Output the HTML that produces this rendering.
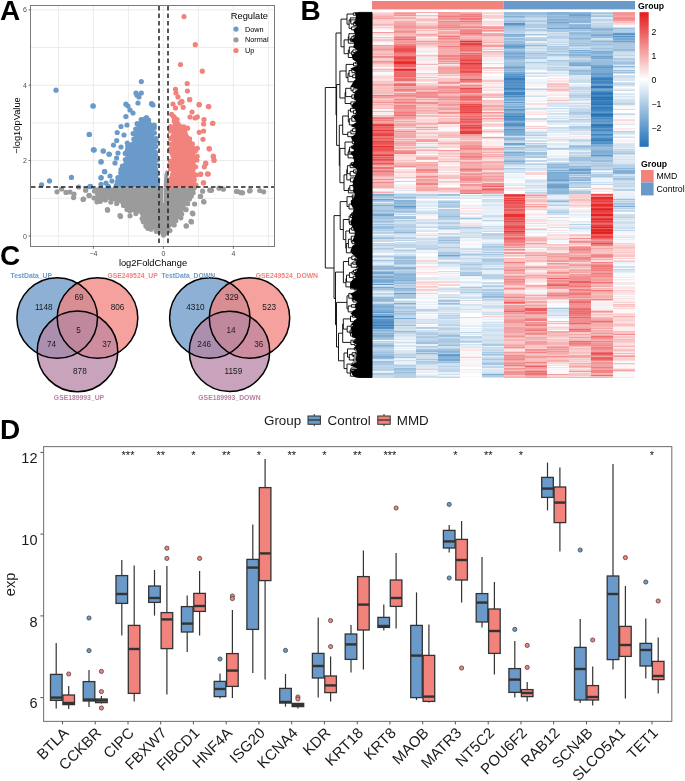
<!DOCTYPE html>
<html><head><meta charset="utf-8"><style>
html,body{margin:0;padding:0;background:#fff;width:685px;height:781px;overflow:hidden}
svg{display:block;font-family:"Liberation Sans", sans-serif;will-change:transform}
</style></head><body>
<svg width="685" height="781" viewBox="0 0 685 781">
<rect width="685" height="781" fill="#fff"/>
<line x1="58.4" y1="6" x2="58.4" y2="246.4" stroke="#EBEBEB" stroke-width="1"/>
<line x1="93.4" y1="6" x2="93.4" y2="246.4" stroke="#EBEBEB" stroke-width="1"/>
<line x1="128.4" y1="6" x2="128.4" y2="246.4" stroke="#EBEBEB" stroke-width="1"/>
<line x1="163.4" y1="6" x2="163.4" y2="246.4" stroke="#EBEBEB" stroke-width="1"/>
<line x1="198.4" y1="6" x2="198.4" y2="246.4" stroke="#EBEBEB" stroke-width="1"/>
<line x1="233.4" y1="6" x2="233.4" y2="246.4" stroke="#EBEBEB" stroke-width="1"/>
<line x1="268.4" y1="6" x2="268.4" y2="246.4" stroke="#EBEBEB" stroke-width="1"/>
<line x1="31" y1="236" x2="275" y2="236" stroke="#EBEBEB" stroke-width="1"/>
<line x1="31" y1="198.3" x2="275" y2="198.3" stroke="#EBEBEB" stroke-width="1"/>
<line x1="31" y1="160.6" x2="275" y2="160.6" stroke="#EBEBEB" stroke-width="1"/>
<line x1="31" y1="122.9" x2="275" y2="122.9" stroke="#EBEBEB" stroke-width="1"/>
<line x1="31" y1="85.2" x2="275" y2="85.2" stroke="#EBEBEB" stroke-width="1"/>
<line x1="31" y1="47.5" x2="275" y2="47.5" stroke="#EBEBEB" stroke-width="1"/>
<line x1="31" y1="9.8" x2="275" y2="9.8" stroke="#EBEBEB" stroke-width="1"/>
<polygon points="93.2,190.3 193.7,190.1 191,194.7 187.2,203.3 182.4,213.8 174.9,223.2 167.5,230.6 162.7,233.4 156.6,231.1 149.5,227.6 144.4,222.5 139.5,213.6 132.3,212 127.3,209.5 120,203.3 108.4,199.8 100.3,200.8 96,200.1 95.1,194.2" fill="#9B9B9B"/>
<circle cx="194.2" cy="187.7" r="2.6" fill="#9B9B9B"/>
<circle cx="193.2" cy="192.8" r="2.6" fill="#9B9B9B"/>
<circle cx="191.3" cy="196.1" r="2.6" fill="#9B9B9B"/>
<circle cx="189.5" cy="199.1" r="2.6" fill="#9B9B9B"/>
<circle cx="187.7" cy="203.7" r="2.6" fill="#9B9B9B"/>
<circle cx="186.1" cy="209.7" r="2.6" fill="#9B9B9B"/>
<circle cx="181.7" cy="214" r="2.6" fill="#9B9B9B"/>
<circle cx="180.9" cy="217.8" r="2.6" fill="#9B9B9B"/>
<circle cx="175.8" cy="220.8" r="2.6" fill="#9B9B9B"/>
<circle cx="174.2" cy="225" r="2.6" fill="#9B9B9B"/>
<circle cx="169.9" cy="230.6" r="2.6" fill="#9B9B9B"/>
<circle cx="165" cy="233.1" r="2.6" fill="#9B9B9B"/>
<circle cx="163.5" cy="235" r="2.6" fill="#9B9B9B"/>
<circle cx="159.7" cy="231.7" r="2.6" fill="#9B9B9B"/>
<circle cx="156.3" cy="231.3" r="2.6" fill="#9B9B9B"/>
<circle cx="151" cy="229.2" r="2.6" fill="#9B9B9B"/>
<circle cx="147.8" cy="228.3" r="2.6" fill="#9B9B9B"/>
<circle cx="145.9" cy="225.9" r="2.6" fill="#9B9B9B"/>
<circle cx="143.3" cy="221.8" r="2.6" fill="#9B9B9B"/>
<circle cx="142.1" cy="218.5" r="2.6" fill="#9B9B9B"/>
<circle cx="135.9" cy="213.6" r="2.6" fill="#9B9B9B"/>
<circle cx="130" cy="210.8" r="2.6" fill="#9B9B9B"/>
<circle cx="127" cy="209.6" r="2.6" fill="#9B9B9B"/>
<circle cx="123.5" cy="205.4" r="2.6" fill="#9B9B9B"/>
<circle cx="116.7" cy="203.4" r="2.6" fill="#9B9B9B"/>
<circle cx="110.8" cy="202.1" r="2.6" fill="#9B9B9B"/>
<circle cx="105.4" cy="199.9" r="2.6" fill="#9B9B9B"/>
<circle cx="100.4" cy="201.3" r="2.6" fill="#9B9B9B"/>
<circle cx="97" cy="201.8" r="2.6" fill="#9B9B9B"/>
<circle cx="94.4" cy="191" r="2.6" fill="#9B9B9B"/>
<polygon points="92,187.5 197,187.5 195,191 94,191" fill="#9B9B9B"/>
<polygon points="163.5,187.5 164.5,174 166.3,169.5 168,174 169,187.5" fill="#9B9B9B"/>
<circle cx="83.1" cy="199.4" r="2.6" fill="#9B9B9B"/>
<circle cx="89.2" cy="195.3" r="2.6" fill="#9B9B9B"/>
<circle cx="85.7" cy="190.2" r="2.6" fill="#9B9B9B"/>
<circle cx="107.6" cy="210.2" r="2.6" fill="#9B9B9B"/>
<circle cx="120.5" cy="216.4" r="2.6" fill="#9B9B9B"/>
<circle cx="130" cy="215.8" r="2.6" fill="#9B9B9B"/>
<circle cx="186.3" cy="226" r="2.6" fill="#9B9B9B"/>
<circle cx="191.4" cy="221.9" r="2.6" fill="#9B9B9B"/>
<circle cx="192.4" cy="213.1" r="2.6" fill="#9B9B9B"/>
<circle cx="203.6" cy="201.5" r="2.6" fill="#9B9B9B"/>
<circle cx="200.6" cy="196.3" r="2.6" fill="#9B9B9B"/>
<circle cx="202.6" cy="191.2" r="2.6" fill="#9B9B9B"/>
<circle cx="209.8" cy="190.2" r="2.6" fill="#9B9B9B"/>
<circle cx="219" cy="188.2" r="2.6" fill="#9B9B9B"/>
<circle cx="57" cy="191.8" r="2.6" fill="#9B9B9B"/>
<circle cx="61.6" cy="189" r="2.6" fill="#9B9B9B"/>
<circle cx="66" cy="192.4" r="2.6" fill="#9B9B9B"/>
<circle cx="70" cy="192" r="2.6" fill="#9B9B9B"/>
<circle cx="74" cy="194" r="2.6" fill="#9B9B9B"/>
<circle cx="73.6" cy="197.6" r="2.6" fill="#9B9B9B"/>
<circle cx="78.6" cy="187" r="2.6" fill="#9B9B9B"/>
<circle cx="83.6" cy="199" r="2.6" fill="#9B9B9B"/>
<circle cx="89" cy="195.6" r="2.6" fill="#9B9B9B"/>
<circle cx="85.6" cy="190" r="2.6" fill="#9B9B9B"/>
<circle cx="94" cy="198" r="2.6" fill="#9B9B9B"/>
<circle cx="100" cy="192" r="2.6" fill="#9B9B9B"/>
<circle cx="107.4" cy="209.6" r="2.6" fill="#9B9B9B"/>
<circle cx="120" cy="215.6" r="2.6" fill="#9B9B9B"/>
<circle cx="223.4" cy="189.2" r="2.6" fill="#9B9B9B"/>
<circle cx="236.5" cy="191.4" r="2.6" fill="#9B9B9B"/>
<circle cx="241" cy="192.7" r="2.6" fill="#9B9B9B"/>
<circle cx="249.7" cy="191" r="2.6" fill="#9B9B9B"/>
<circle cx="259.7" cy="190.5" r="2.6" fill="#9B9B9B"/>
<circle cx="263.7" cy="191.8" r="2.6" fill="#9B9B9B"/>
<circle cx="204" cy="202" r="2.6" fill="#9B9B9B"/>
<circle cx="200.3" cy="196.5" r="2.6" fill="#9B9B9B"/>
<circle cx="194.6" cy="204" r="2.6" fill="#9B9B9B"/>
<circle cx="192.9" cy="213.8" r="2.6" fill="#9B9B9B"/>
<circle cx="191" cy="221.3" r="2.6" fill="#9B9B9B"/>
<circle cx="186.2" cy="225.8" r="2.6" fill="#9B9B9B"/>
<circle cx="211.5" cy="190.3" r="2.6" fill="#9B9B9B"/>
<circle cx="237.6" cy="191.5" r="2.6" fill="#9B9B9B"/>
<circle cx="242.5" cy="192.8" r="2.6" fill="#9B9B9B"/>
<circle cx="250" cy="190.3" r="2.6" fill="#9B9B9B"/>
<polygon points="116,184.7 118.1,178.9 120.6,170.7 124,161.3 127,151.2 128.9,143.6 132.9,141 134.7,129.6 137.6,124.2 140.9,119 143.1,118.4 146.4,118.2 148.7,119 152.5,123.7 155.3,141.6 157.2,184.6" fill="#6A9AC9"/>
<circle cx="116.3" cy="185.4" r="2.6" fill="#6A9AC9"/>
<circle cx="117.6" cy="181.3" r="2.6" fill="#6A9AC9"/>
<circle cx="117.9" cy="177.5" r="2.6" fill="#6A9AC9"/>
<circle cx="120.7" cy="173" r="2.6" fill="#6A9AC9"/>
<circle cx="121" cy="169.5" r="2.6" fill="#6A9AC9"/>
<circle cx="122.4" cy="166" r="2.6" fill="#6A9AC9"/>
<circle cx="125.4" cy="159.5" r="2.6" fill="#6A9AC9"/>
<circle cx="125.2" cy="153.4" r="2.6" fill="#6A9AC9"/>
<circle cx="127.3" cy="150.1" r="2.6" fill="#6A9AC9"/>
<circle cx="127.8" cy="146.4" r="2.6" fill="#6A9AC9"/>
<circle cx="127.3" cy="143" r="2.6" fill="#6A9AC9"/>
<circle cx="133.8" cy="139.1" r="2.6" fill="#6A9AC9"/>
<circle cx="133.1" cy="133.5" r="2.6" fill="#6A9AC9"/>
<circle cx="135.7" cy="129.1" r="2.6" fill="#6A9AC9"/>
<circle cx="137.1" cy="123.7" r="2.6" fill="#6A9AC9"/>
<circle cx="141.2" cy="119.7" r="2.6" fill="#6A9AC9"/>
<circle cx="144.9" cy="118.9" r="2.6" fill="#6A9AC9"/>
<circle cx="146.5" cy="117.5" r="2.6" fill="#6A9AC9"/>
<circle cx="148.6" cy="120" r="2.6" fill="#6A9AC9"/>
<circle cx="154.1" cy="125.2" r="2.6" fill="#6A9AC9"/>
<circle cx="154.3" cy="127.8" r="2.6" fill="#6A9AC9"/>
<circle cx="154.4" cy="132.9" r="2.6" fill="#6A9AC9"/>
<circle cx="156" cy="138.6" r="2.6" fill="#6A9AC9"/>
<circle cx="156" cy="141.3" r="2.6" fill="#6A9AC9"/>
<circle cx="155.7" cy="146.4" r="2.6" fill="#6A9AC9"/>
<circle cx="155.4" cy="152.1" r="2.6" fill="#6A9AC9"/>
<circle cx="155.7" cy="155.2" r="2.6" fill="#6A9AC9"/>
<circle cx="157.3" cy="159.8" r="2.6" fill="#6A9AC9"/>
<circle cx="155.4" cy="164.6" r="2.6" fill="#6A9AC9"/>
<circle cx="155.4" cy="168.7" r="2.6" fill="#6A9AC9"/>
<circle cx="156.5" cy="171.7" r="2.6" fill="#6A9AC9"/>
<circle cx="155.9" cy="175.2" r="2.6" fill="#6A9AC9"/>
<circle cx="157.6" cy="179.3" r="2.6" fill="#6A9AC9"/>
<circle cx="157.4" cy="183.9" r="2.6" fill="#6A9AC9"/>
<polygon points="115,187.5 116,180 158,180 158,187.5" fill="#6A9AC9"/>
<circle cx="56" cy="90.2" r="2.6" fill="#6A9AC9"/>
<circle cx="93.3" cy="106" r="2.6" fill="#6A9AC9"/>
<circle cx="141.3" cy="81.6" r="2.6" fill="#6A9AC9"/>
<circle cx="89.4" cy="134.5" r="2.6" fill="#6A9AC9"/>
<circle cx="93.3" cy="149.8" r="2.6" fill="#6A9AC9"/>
<circle cx="41.6" cy="184.8" r="2.6" fill="#6A9AC9"/>
<circle cx="49.5" cy="180.9" r="2.6" fill="#6A9AC9"/>
<circle cx="71.4" cy="177.4" r="2.6" fill="#6A9AC9"/>
<circle cx="90.6" cy="186.4" r="2.6" fill="#6A9AC9"/>
<circle cx="92.9" cy="105.9" r="2.6" fill="#6A9AC9"/>
<circle cx="89.2" cy="134.4" r="2.6" fill="#6A9AC9"/>
<circle cx="94.1" cy="149.8" r="2.6" fill="#6A9AC9"/>
<circle cx="103.1" cy="151" r="2.6" fill="#6A9AC9"/>
<circle cx="109.3" cy="154.3" r="2.6" fill="#6A9AC9"/>
<circle cx="101.1" cy="161.7" r="2.6" fill="#6A9AC9"/>
<circle cx="89.9" cy="186.6" r="2.6" fill="#6A9AC9"/>
<circle cx="101.1" cy="177.9" r="2.6" fill="#6A9AC9"/>
<circle cx="104.8" cy="171.7" r="2.6" fill="#6A9AC9"/>
<circle cx="108.5" cy="186.6" r="2.6" fill="#6A9AC9"/>
<circle cx="152" cy="104.2" r="2.6" fill="#6A9AC9"/>
<circle cx="125.9" cy="104.2" r="2.6" fill="#6A9AC9"/>
<circle cx="137" cy="95.2" r="2.6" fill="#6A9AC9"/>
<circle cx="141.3" cy="93" r="2.6" fill="#6A9AC9"/>
<circle cx="121" cy="126.5" r="2.6" fill="#6A9AC9"/>
<circle cx="117.2" cy="132.5" r="2.6" fill="#6A9AC9"/>
<circle cx="116.7" cy="140.6" r="2.6" fill="#6A9AC9"/>
<circle cx="113.5" cy="145.1" r="2.6" fill="#6A9AC9"/>
<circle cx="125.9" cy="116.6" r="2.6" fill="#6A9AC9"/>
<circle cx="101" cy="162" r="2.6" fill="#6A9AC9"/>
<circle cx="101" cy="177.6" r="2.6" fill="#6A9AC9"/>
<circle cx="101" cy="184.4" r="2.6" fill="#6A9AC9"/>
<circle cx="104.4" cy="171.6" r="2.6" fill="#6A9AC9"/>
<circle cx="108" cy="186.6" r="2.6" fill="#6A9AC9"/>
<circle cx="109" cy="154" r="2.6" fill="#6A9AC9"/>
<circle cx="116.6" cy="158" r="2.6" fill="#6A9AC9"/>
<circle cx="94" cy="150" r="2.6" fill="#6A9AC9"/>
<circle cx="103.4" cy="151" r="2.6" fill="#6A9AC9"/>
<circle cx="136" cy="93" r="2.6" fill="#6A9AC9"/>
<circle cx="139" cy="97" r="2.6" fill="#6A9AC9"/>
<circle cx="138" cy="103" r="2.6" fill="#6A9AC9"/>
<circle cx="128" cy="106" r="2.6" fill="#6A9AC9"/>
<circle cx="130" cy="110" r="2.6" fill="#6A9AC9"/>
<circle cx="133" cy="113" r="2.6" fill="#6A9AC9"/>
<circle cx="151.5" cy="103.5" r="2.6" fill="#6A9AC9"/>
<circle cx="153" cy="105" r="2.6" fill="#6A9AC9"/>
<circle cx="110" cy="176" r="2.6" fill="#6A9AC9"/>
<circle cx="112" cy="181" r="2.6" fill="#6A9AC9"/>
<circle cx="106" cy="183" r="2.6" fill="#6A9AC9"/>
<circle cx="115" cy="163" r="2.6" fill="#6A9AC9"/>
<circle cx="118" cy="153" r="2.6" fill="#6A9AC9"/>
<circle cx="121" cy="147" r="2.6" fill="#6A9AC9"/>
<circle cx="124" cy="135" r="2.6" fill="#6A9AC9"/>
<circle cx="127" cy="125" r="2.6" fill="#6A9AC9"/>
<polygon points="170.8,184.5 172,128.4 173.6,118.2 174.4,117.2 177.4,119.3 182.1,125 186.5,128.3 188.1,134.6 192.1,141.7 194.9,150.8 195.8,160.1 195.3,171.8 196.1,184.5" fill="#F2837C"/>
<circle cx="170.2" cy="186.6" r="2.6" fill="#F2837C"/>
<circle cx="170.5" cy="183.2" r="2.6" fill="#F2837C"/>
<circle cx="171.1" cy="178.7" r="2.6" fill="#F2837C"/>
<circle cx="172.5" cy="174.7" r="2.6" fill="#F2837C"/>
<circle cx="170.5" cy="168.9" r="2.6" fill="#F2837C"/>
<circle cx="171.1" cy="165.6" r="2.6" fill="#F2837C"/>
<circle cx="170.4" cy="161.1" r="2.6" fill="#F2837C"/>
<circle cx="172.9" cy="155.6" r="2.6" fill="#F2837C"/>
<circle cx="171.5" cy="152.3" r="2.6" fill="#F2837C"/>
<circle cx="170.4" cy="149" r="2.6" fill="#F2837C"/>
<circle cx="170.8" cy="144.1" r="2.6" fill="#F2837C"/>
<circle cx="170.6" cy="138.6" r="2.6" fill="#F2837C"/>
<circle cx="172.8" cy="136.4" r="2.6" fill="#F2837C"/>
<circle cx="170.5" cy="130.9" r="2.6" fill="#F2837C"/>
<circle cx="170.5" cy="126.5" r="2.6" fill="#F2837C"/>
<circle cx="174.2" cy="121" r="2.6" fill="#F2837C"/>
<circle cx="174.6" cy="117.8" r="2.6" fill="#F2837C"/>
<circle cx="173.5" cy="116.4" r="2.6" fill="#F2837C"/>
<circle cx="177.1" cy="119.5" r="2.6" fill="#F2837C"/>
<circle cx="183.8" cy="126.8" r="2.6" fill="#F2837C"/>
<circle cx="187.6" cy="128.2" r="2.6" fill="#F2837C"/>
<circle cx="189.6" cy="138.9" r="2.6" fill="#F2837C"/>
<circle cx="192.4" cy="143.9" r="2.6" fill="#F2837C"/>
<circle cx="194" cy="148.7" r="2.6" fill="#F2837C"/>
<circle cx="195.3" cy="151.1" r="2.6" fill="#F2837C"/>
<circle cx="197.2" cy="156.3" r="2.6" fill="#F2837C"/>
<circle cx="196.9" cy="160" r="2.6" fill="#F2837C"/>
<circle cx="195.5" cy="166.8" r="2.6" fill="#F2837C"/>
<circle cx="195.9" cy="174.9" r="2.6" fill="#F2837C"/>
<circle cx="194.2" cy="179.9" r="2.6" fill="#F2837C"/>
<circle cx="195.8" cy="185.2" r="2.6" fill="#F2837C"/>
<polygon points="170,187.5 170,180 196,180 196,187.5" fill="#F2837C"/>
<circle cx="184" cy="16.6" r="2.6" fill="#F2837C"/>
<circle cx="195.3" cy="44.7" r="2.6" fill="#F2837C"/>
<circle cx="180.5" cy="64.5" r="2.6" fill="#F2837C"/>
<circle cx="202.3" cy="71.2" r="2.6" fill="#F2837C"/>
<circle cx="187.2" cy="83.6" r="2.6" fill="#F2837C"/>
<circle cx="187.4" cy="91" r="2.6" fill="#F2837C"/>
<circle cx="175.5" cy="89.3" r="2.6" fill="#F2837C"/>
<circle cx="189.7" cy="99.7" r="2.6" fill="#F2837C"/>
<circle cx="199.1" cy="104.7" r="2.6" fill="#F2837C"/>
<circle cx="208.3" cy="106.6" r="2.6" fill="#F2837C"/>
<circle cx="212.8" cy="123.3" r="2.6" fill="#F2837C"/>
<circle cx="204" cy="119.6" r="2.6" fill="#F2837C"/>
<circle cx="209" cy="148.6" r="2.6" fill="#F2837C"/>
<circle cx="213.3" cy="156.8" r="2.6" fill="#F2837C"/>
<circle cx="214" cy="160.5" r="2.6" fill="#F2837C"/>
<circle cx="205.8" cy="163.7" r="2.6" fill="#F2837C"/>
<circle cx="208.3" cy="174" r="2.6" fill="#F2837C"/>
<circle cx="200.8" cy="174" r="2.6" fill="#F2837C"/>
<circle cx="203.3" cy="182.8" r="2.6" fill="#F2837C"/>
<circle cx="181.7" cy="101.7" r="2.6" fill="#F2837C"/>
<circle cx="171.6" cy="114.3" r="2.6" fill="#F2837C"/>
<circle cx="175.5" cy="108" r="2.6" fill="#F2837C"/>
<circle cx="183.2" cy="107.3" r="2.6" fill="#F2837C"/>
<circle cx="181.9" cy="101.5" r="2.6" fill="#F2837C"/>
<circle cx="189.6" cy="99.6" r="2.6" fill="#F2837C"/>
<circle cx="199.2" cy="104.7" r="2.6" fill="#F2837C"/>
<circle cx="208.8" cy="106.6" r="2.6" fill="#F2837C"/>
<circle cx="212.6" cy="123.3" r="2.6" fill="#F2837C"/>
<circle cx="203.6" cy="124" r="2.6" fill="#F2837C"/>
<circle cx="203.6" cy="131" r="2.6" fill="#F2837C"/>
<circle cx="199.2" cy="132.3" r="2.6" fill="#F2837C"/>
<circle cx="203" cy="139.3" r="2.6" fill="#F2837C"/>
<circle cx="209.4" cy="148.9" r="2.6" fill="#F2837C"/>
<circle cx="213.3" cy="156" r="2.6" fill="#F2837C"/>
<circle cx="214" cy="159.8" r="2.6" fill="#F2837C"/>
<circle cx="205.6" cy="163" r="2.6" fill="#F2837C"/>
<circle cx="204.3" cy="166.8" r="2.6" fill="#F2837C"/>
<circle cx="207.5" cy="173.9" r="2.6" fill="#F2837C"/>
<circle cx="200.5" cy="174.5" r="2.6" fill="#F2837C"/>
<circle cx="203.6" cy="182.8" r="2.6" fill="#F2837C"/>
<circle cx="197.3" cy="116.9" r="2.6" fill="#F2837C"/>
<circle cx="197.3" cy="148.3" r="2.6" fill="#F2837C"/>
<circle cx="176" cy="93" r="2.6" fill="#F2837C"/>
<circle cx="178" cy="97" r="2.6" fill="#F2837C"/>
<circle cx="180" cy="103" r="2.6" fill="#F2837C"/>
<circle cx="173" cy="104" r="2.6" fill="#F2837C"/>
<circle cx="192" cy="112" r="2.6" fill="#F2837C"/>
<circle cx="195" cy="118" r="2.6" fill="#F2837C"/>
<circle cx="190" cy="117" r="2.6" fill="#F2837C"/>
<line x1="163.4" y1="176" x2="163.4" y2="203" stroke="#fff" stroke-width="0.7" opacity="0.8"/>
<line x1="159" y1="6" x2="159" y2="246.4" stroke="#222" stroke-width="1.5" stroke-dasharray="4.5,3"/>
<line x1="168" y1="6" x2="168" y2="246.4" stroke="#222" stroke-width="1.5" stroke-dasharray="4.5,3"/>
<line x1="31" y1="187" x2="275" y2="187" stroke="#222" stroke-width="1.5" stroke-dasharray="4.5,3"/>
<rect x="30.5" y="5.5" width="244" height="241" fill="none" stroke="#7A7A7A" stroke-width="1"/>
<line x1="28.5" y1="236" x2="31" y2="236" stroke="#555" stroke-width="0.8"/>
<text x="27" y="238.5" font-size="7" fill="#4D4D4D" text-anchor="end">0</text>
<line x1="28.5" y1="160.6" x2="31" y2="160.6" stroke="#555" stroke-width="0.8"/>
<text x="27" y="163.1" font-size="7" fill="#4D4D4D" text-anchor="end">2</text>
<line x1="28.5" y1="85.2" x2="31" y2="85.2" stroke="#555" stroke-width="0.8"/>
<text x="27" y="87.7" font-size="7" fill="#4D4D4D" text-anchor="end">4</text>
<line x1="28.5" y1="9.8" x2="31" y2="9.8" stroke="#555" stroke-width="0.8"/>
<text x="27" y="12.3" font-size="7" fill="#4D4D4D" text-anchor="end">6</text>
<line x1="93.4" y1="246.4" x2="93.4" y2="248.9" stroke="#555" stroke-width="0.8"/>
<text x="93.4" y="255.9" font-size="7" fill="#4D4D4D" text-anchor="middle">−4</text>
<line x1="163.4" y1="246.4" x2="163.4" y2="248.9" stroke="#555" stroke-width="0.8"/>
<text x="163.4" y="255.9" font-size="7" fill="#4D4D4D" text-anchor="middle">0</text>
<line x1="233.4" y1="246.4" x2="233.4" y2="248.9" stroke="#555" stroke-width="0.8"/>
<text x="233.4" y="255.9" font-size="7" fill="#4D4D4D" text-anchor="middle">4</text>
<text x="153" y="265.5" font-size="9.3" fill="#000" text-anchor="middle">log2FoldChange</text>
<text transform="translate(19.6,125.5) rotate(-90)" font-size="9.3" fill="#000" text-anchor="middle">−log10pValue</text>
<text x="230.8" y="19" font-size="9.3" fill="#000">Regulate</text>
<circle cx="236" cy="29.1" r="2.6" fill="#6A9AC9"/>
<text x="245" y="31.7" font-size="7.3" fill="#000">Down</text>
<circle cx="236" cy="39.8" r="2.6" fill="#9B9B9B"/>
<text x="245" y="42.4" font-size="7.3" fill="#000">Normal</text>
<circle cx="236" cy="50.5" r="2.6" fill="#F2837C"/>
<text x="245" y="53.1" font-size="7.3" fill="#000">Up</text>
<text x="0" y="20.1" font-size="28" font-weight="bold" fill="#000">A</text>
<text x="300.6" y="20.1" font-size="28" font-weight="bold" fill="#000">B</text>
<text x="0" y="265" font-size="28" font-weight="bold" fill="#000">C</text>
<text x="0" y="439.3" font-size="28" font-weight="bold" fill="#000">D</text>
<rect x="372.0" y="1" width="131.5" height="8.4" fill="#F2837C"/>
<rect x="503.5" y="1" width="131.5" height="8.4" fill="#6A9AC9"/>
<defs><filter id="hb" x="370.0" y="9.9" width="267.0" height="370.1" filterUnits="userSpaceOnUse"><feGaussianBlur stdDeviation="0.25 0.55"/></filter><clipPath id="hc"><rect x="372.0" y="11.9" width="263" height="366.1"/></clipPath></defs>
<g clip-path="url(#hc)"><g filter="url(#hb)">
<g transform="translate(372.0,11.9) scale(21.9167,1.0003)" fill="none" stroke-width="1" shape-rendering="crispEdges">
<path stroke="#2171B5" d="M10 85.5h1M10 87.5h1M10 102.5h1M10 113.5h1"/>
<path stroke="#2976B8" d="M0 304.5h1M10 74.5h1M10 75.5h1M10 81.5h1M10 92.5h1M10 103.5h1"/>
<path stroke="#317BBA" d="M10 82.5h1M10 86.5h1M10 91.5h1M10 95.5h1M10 96.5h1M10 128.5h1"/>
<path stroke="#3980BD" d="M0 313.5h1M6 66.5h1M6 67.5h1M6 76.5h1M10 66.5h1M10 67.5h1M10 80.5h1M10 89.5h1M10 90.5h1M10 104.5h1M10 112.5h1M10 122.5h1"/>
<path stroke="#4185C0" d="M6 80.5h1M6 81.5h1M6 82.5h1M6 104.5h1M10 69.5h1M10 70.5h1M10 84.5h1M10 97.5h1M10 98.5h1M10 101.5h1M10 114.5h1M10 115.5h1M10 118.5h1M10 127.5h1"/>
<path stroke="#498AC2" d="M0 310.5h1M0 315.5h1M6 70.5h1M6 77.5h1M10 71.5h1M10 83.5h1M10 88.5h1M10 94.5h1M10 106.5h1M10 126.5h1"/>
<path stroke="#518FC5" d="M0 309.5h1M0 311.5h1M0 316.5h1M6 64.5h1M6 68.5h1M6 73.5h1M6 84.5h1M6 106.5h1M6 107.5h1M6 112.5h1M6 113.5h1M10 65.5h1M10 68.5h1M10 79.5h1M10 93.5h1M10 99.5h1M10 117.5h1M10 131.5h1"/>
<path stroke="#5994C8" d="M0 305.5h1M0 307.5h1M0 308.5h1M0 312.5h1M6 11.5h1M6 12.5h1M6 62.5h1M6 65.5h1M6 69.5h1M6 71.5h1M6 72.5h1M6 74.5h1M6 75.5h1M6 97.5h1M6 105.5h1M6 111.5h1M10 105.5h1M10 109.5h1M10 123.5h1M10 129.5h1M10 130.5h1M11 22.5h1M11 24.5h1"/>
<path stroke="#609ACA" d="M0 272.5h1M0 300.5h1M0 314.5h1M1 194.5h1M3 343.5h1M6 34.5h1M6 90.5h1M6 101.5h1M6 102.5h1M6 103.5h1M6 108.5h1M6 117.5h1M10 55.5h1M10 62.5h1M10 73.5h1M10 76.5h1M10 100.5h1M10 107.5h1M10 108.5h1M10 116.5h1M10 125.5h1M10 143.5h1M11 21.5h1"/>
<path stroke="#689FCD" d="M3 342.5h1M6 55.5h1M6 63.5h1M6 78.5h1M8 168.5h1M8 174.5h1M9 157.5h1M9 158.5h1M10 61.5h1M10 64.5h1M10 78.5h1M10 110.5h1M10 111.5h1M10 119.5h1M10 120.5h1"/>
<path stroke="#70A4CF" d="M0 187.5h1M0 203.5h1M0 261.5h1M1 281.5h1M3 243.5h1M6 33.5h1M6 35.5h1M6 79.5h1M6 83.5h1M6 98.5h1M6 114.5h1M6 131.5h1M6 132.5h1M8 16.5h1M8 172.5h1M8 173.5h1M8 175.5h1M9 2.5h1M9 3.5h1M9 16.5h1M10 44.5h1M10 54.5h1M10 72.5h1M10 124.5h1M11 29.5h1"/>
<path stroke="#78A9D2" d="M0 202.5h1M0 260.5h1M0 265.5h1M0 268.5h1M0 269.5h1M0 275.5h1M0 294.5h1M0 299.5h1M0 302.5h1M0 303.5h1M0 323.5h1M1 306.5h1M3 347.5h1M3 348.5h1M6 41.5h1M6 44.5h1M6 60.5h1M6 61.5h1M6 85.5h1M6 87.5h1M6 88.5h1M6 94.5h1M6 110.5h1M6 118.5h1M6 119.5h1M6 120.5h1M6 122.5h1M6 140.5h1M8 10.5h1M8 160.5h1M8 167.5h1M9 38.5h1M9 53.5h1M9 160.5h1M9 161.5h1M10 23.5h1M10 46.5h1M10 53.5h1M10 56.5h1M10 57.5h1M10 59.5h1M10 60.5h1M10 63.5h1M10 77.5h1M10 121.5h1M11 26.5h1M11 27.5h1M11 194.5h1"/>
<path stroke="#80AED5" d="M0 182.5h1M0 193.5h1M0 264.5h1M0 267.5h1M0 270.5h1M0 295.5h1M0 298.5h1M0 306.5h1M0 318.5h1M0 324.5h1M0 344.5h1M0 345.5h1M1 195.5h1M1 262.5h1M1 268.5h1M1 291.5h1M3 344.5h1M5 362.5h1M6 4.5h1M6 13.5h1M6 22.5h1M6 32.5h1M6 40.5h1M6 42.5h1M6 95.5h1M6 99.5h1M6 121.5h1M6 149.5h1M8 7.5h1M8 158.5h1M8 161.5h1M8 162.5h1M8 163.5h1M8 164.5h1M8 165.5h1M8 166.5h1M9 40.5h1M9 51.5h1M9 52.5h1M9 168.5h1M10 17.5h1M10 22.5h1M10 39.5h1M10 40.5h1M10 45.5h1M10 58.5h1M10 132.5h1M10 133.5h1M10 139.5h1M10 140.5h1M11 159.5h1M11 160.5h1"/>
<path stroke="#88B3D7" d="M0 183.5h1M0 293.5h1M0 297.5h1M0 321.5h1M0 333.5h1M1 188.5h1M1 189.5h1M1 191.5h1M1 255.5h1M1 256.5h1M1 266.5h1M1 276.5h1M3 339.5h1M3 345.5h1M6 23.5h1M6 36.5h1M6 45.5h1M6 46.5h1M6 54.5h1M6 56.5h1M6 58.5h1M6 86.5h1M6 92.5h1M6 100.5h1M6 109.5h1M6 115.5h1M8 0.5h1M8 1.5h1M8 2.5h1M8 176.5h1M8 181.5h1M9 1.5h1M9 4.5h1M9 5.5h1M9 9.5h1M9 13.5h1M9 15.5h1M9 26.5h1M9 42.5h1M9 43.5h1M10 41.5h1M10 134.5h1M10 138.5h1M10 141.5h1M10 142.5h1M10 144.5h1M11 25.5h1M11 158.5h1"/>
<path stroke="#90B8DA" d="M0 254.5h1M0 256.5h1M0 287.5h1M0 288.5h1M0 292.5h1M0 296.5h1M1 196.5h1M1 220.5h1M1 263.5h1M1 264.5h1M1 265.5h1M1 267.5h1M2 339.5h1M2 341.5h1M3 340.5h1M3 346.5h1M5 284.5h1M6 24.5h1M6 43.5h1M6 57.5h1M6 116.5h1M6 123.5h1M6 126.5h1M6 127.5h1M6 143.5h1M7 33.5h1M8 4.5h1M8 5.5h1M8 8.5h1M8 9.5h1M8 11.5h1M8 152.5h1M8 155.5h1M8 171.5h1M8 178.5h1M8 179.5h1M8 180.5h1M8 189.5h1M9 0.5h1M9 7.5h1M9 8.5h1M9 10.5h1M9 14.5h1M9 21.5h1M9 50.5h1M9 58.5h1M9 134.5h1M9 154.5h1M9 156.5h1M9 165.5h1M10 29.5h1M11 23.5h1M11 28.5h1M11 37.5h1M11 54.5h1M11 156.5h1M11 161.5h1"/>
<path stroke="#98BDDD" d="M0 188.5h1M0 198.5h1M0 201.5h1M0 215.5h1M0 216.5h1M0 226.5h1M0 255.5h1M0 257.5h1M0 259.5h1M0 285.5h1M0 286.5h1M0 322.5h1M0 325.5h1M0 334.5h1M0 342.5h1M0 343.5h1M0 346.5h1M1 185.5h1M1 190.5h1M1 193.5h1M1 199.5h1M1 245.5h1M1 248.5h1M1 251.5h1M1 261.5h1M1 271.5h1M1 277.5h1M1 278.5h1M1 313.5h1M1 319.5h1M1 356.5h1M1 360.5h1M2 338.5h1M3 182.5h1M3 190.5h1M3 204.5h1M3 228.5h1M3 291.5h1M3 323.5h1M3 333.5h1M3 350.5h1M4 263.5h1M5 285.5h1M5 342.5h1M6 0.5h1M6 1.5h1M6 2.5h1M6 9.5h1M6 14.5h1M6 26.5h1M6 27.5h1M6 29.5h1M6 30.5h1M6 31.5h1M6 39.5h1M6 53.5h1M6 96.5h1M6 135.5h1M6 141.5h1M6 142.5h1M6 148.5h1M7 1.5h1M7 2.5h1M8 12.5h1M8 154.5h1M8 169.5h1M9 6.5h1M9 12.5h1M9 20.5h1M9 22.5h1M9 33.5h1M9 59.5h1M9 167.5h1M10 16.5h1M10 18.5h1M10 24.5h1M10 25.5h1M10 32.5h1M10 42.5h1M10 43.5h1M10 49.5h1M10 50.5h1M10 51.5h1M10 52.5h1M10 136.5h1M10 137.5h1M10 148.5h1M10 149.5h1M11 16.5h1M11 30.5h1M11 58.5h1M11 166.5h1"/>
<path stroke="#A0C2DF" d="M0 199.5h1M0 204.5h1M0 206.5h1M0 209.5h1M0 212.5h1M0 214.5h1M0 263.5h1M0 266.5h1M0 276.5h1M0 277.5h1M0 289.5h1M0 317.5h1M0 319.5h1M0 326.5h1M0 340.5h1M0 349.5h1M0 350.5h1M1 192.5h1M1 205.5h1M1 206.5h1M1 246.5h1M1 249.5h1M1 250.5h1M1 257.5h1M1 270.5h1M1 282.5h1M1 285.5h1M1 299.5h1M1 301.5h1M1 357.5h1M2 330.5h1M2 331.5h1M3 244.5h1M3 288.5h1M3 324.5h1M3 337.5h1M3 338.5h1M5 282.5h1M5 351.5h1M6 5.5h1M6 15.5h1M6 38.5h1M6 47.5h1M6 50.5h1M6 51.5h1M6 52.5h1M6 59.5h1M6 91.5h1M6 93.5h1M6 151.5h1M7 0.5h1M7 41.5h1M7 140.5h1M7 141.5h1M7 142.5h1M8 3.5h1M8 6.5h1M8 13.5h1M8 14.5h1M8 15.5h1M8 42.5h1M8 153.5h1M8 177.5h1M9 18.5h1M9 27.5h1M9 31.5h1M9 61.5h1M9 62.5h1M9 145.5h1M9 146.5h1M9 147.5h1M9 148.5h1M9 155.5h1M9 159.5h1M9 163.5h1M9 166.5h1M9 170.5h1M10 1.5h1M10 4.5h1M10 20.5h1M10 21.5h1M10 36.5h1M10 47.5h1M10 48.5h1M10 135.5h1M11 38.5h1M11 50.5h1M11 51.5h1M11 60.5h1M11 187.5h1M11 191.5h1"/>
<path stroke="#A8C7E2" d="M0 184.5h1M0 185.5h1M0 205.5h1M0 248.5h1M0 301.5h1M0 320.5h1M0 327.5h1M0 332.5h1M0 352.5h1M0 361.5h1M1 204.5h1M1 244.5h1M1 269.5h1M1 283.5h1M1 284.5h1M1 295.5h1M1 296.5h1M1 302.5h1M1 345.5h1M1 358.5h1M2 325.5h1M2 337.5h1M2 347.5h1M3 183.5h1M3 194.5h1M3 216.5h1M3 240.5h1M3 241.5h1M3 289.5h1M3 327.5h1M3 328.5h1M3 329.5h1M4 206.5h1M4 215.5h1M4 242.5h1M4 252.5h1M4 260.5h1M4 261.5h1M4 275.5h1M5 234.5h1M5 242.5h1M5 247.5h1M5 248.5h1M5 280.5h1M5 332.5h1M5 340.5h1M5 347.5h1M5 352.5h1M6 3.5h1M6 8.5h1M6 10.5h1M6 16.5h1M6 17.5h1M6 48.5h1M6 89.5h1M6 125.5h1M6 145.5h1M6 150.5h1M7 4.5h1M7 9.5h1M7 22.5h1M7 50.5h1M7 133.5h1M7 144.5h1M8 18.5h1M8 19.5h1M8 34.5h1M8 39.5h1M8 48.5h1M8 136.5h1M8 156.5h1M8 159.5h1M8 296.5h1M9 17.5h1M9 23.5h1M9 24.5h1M9 25.5h1M9 39.5h1M9 41.5h1M9 44.5h1M9 45.5h1M9 60.5h1M9 100.5h1M9 135.5h1M9 175.5h1M9 179.5h1M9 180.5h1M9 181.5h1M10 19.5h1M10 30.5h1M10 145.5h1M10 146.5h1M10 153.5h1M10 157.5h1M10 162.5h1M10 164.5h1M11 20.5h1M11 31.5h1M11 33.5h1M11 35.5h1M11 141.5h1M11 167.5h1"/>
<path stroke="#B0CCE5" d="M0 189.5h1M0 192.5h1M0 194.5h1M0 195.5h1M0 196.5h1M0 197.5h1M0 208.5h1M0 210.5h1M0 218.5h1M0 225.5h1M0 233.5h1M0 236.5h1M0 244.5h1M0 262.5h1M0 331.5h1M0 335.5h1M0 339.5h1M0 341.5h1M0 351.5h1M0 357.5h1M0 362.5h1M1 182.5h1M1 184.5h1M1 186.5h1M1 197.5h1M1 198.5h1M1 200.5h1M1 208.5h1M1 214.5h1M1 218.5h1M1 219.5h1M1 238.5h1M1 259.5h1M1 260.5h1M1 273.5h1M1 292.5h1M1 361.5h1M2 315.5h1M2 321.5h1M2 322.5h1M2 324.5h1M2 329.5h1M2 334.5h1M2 349.5h1M2 350.5h1M3 192.5h1M3 193.5h1M3 197.5h1M3 202.5h1M3 203.5h1M3 205.5h1M3 211.5h1M3 225.5h1M3 230.5h1M3 235.5h1M3 242.5h1M3 330.5h1M3 332.5h1M3 341.5h1M3 349.5h1M4 262.5h1M4 280.5h1M4 329.5h1M5 235.5h1M5 240.5h1M5 249.5h1M5 274.5h1M5 277.5h1M5 278.5h1M5 283.5h1M5 333.5h1M5 363.5h1M5 364.5h1M6 18.5h1M6 28.5h1M6 37.5h1M6 49.5h1M6 128.5h1M6 133.5h1M6 136.5h1M6 137.5h1M6 139.5h1M6 147.5h1M6 156.5h1M7 3.5h1M7 12.5h1M7 13.5h1M7 14.5h1M7 15.5h1M7 17.5h1M7 18.5h1M7 27.5h1M7 28.5h1M7 45.5h1M7 46.5h1M7 123.5h1M7 134.5h1M7 135.5h1M7 145.5h1M8 17.5h1M8 36.5h1M8 37.5h1M8 43.5h1M8 170.5h1M8 188.5h1M8 200.5h1M9 28.5h1M9 29.5h1M9 30.5h1M9 32.5h1M9 48.5h1M9 49.5h1M9 83.5h1M9 101.5h1M9 107.5h1M9 114.5h1M9 115.5h1M9 133.5h1M9 136.5h1M9 151.5h1M9 171.5h1M10 3.5h1M10 15.5h1M10 28.5h1M10 31.5h1M10 37.5h1M10 38.5h1M10 147.5h1M10 151.5h1M10 154.5h1M10 163.5h1M11 18.5h1M11 32.5h1M11 34.5h1M11 36.5h1M11 46.5h1M11 47.5h1M11 49.5h1M11 157.5h1M11 192.5h1"/>
<path stroke="#B8D1E7" d="M0 191.5h1M0 200.5h1M0 207.5h1M0 220.5h1M0 221.5h1M0 231.5h1M0 271.5h1M0 338.5h1M0 355.5h1M1 212.5h1M1 213.5h1M1 215.5h1M1 225.5h1M1 226.5h1M1 228.5h1M1 233.5h1M1 247.5h1M1 252.5h1M1 274.5h1M1 279.5h1M1 280.5h1M1 286.5h1M1 294.5h1M1 300.5h1M1 309.5h1M1 320.5h1M1 342.5h1M1 353.5h1M1 354.5h1M1 359.5h1M1 362.5h1M1 363.5h1M1 364.5h1M1 365.5h1M2 182.5h1M2 183.5h1M2 236.5h1M2 297.5h1M2 298.5h1M2 316.5h1M2 320.5h1M2 328.5h1M2 351.5h1M3 189.5h1M3 195.5h1M3 198.5h1M3 199.5h1M3 200.5h1M3 201.5h1M3 206.5h1M3 207.5h1M3 210.5h1M3 214.5h1M3 215.5h1M3 226.5h1M3 227.5h1M3 231.5h1M3 250.5h1M3 292.5h1M3 303.5h1M3 313.5h1M3 316.5h1M3 317.5h1M3 322.5h1M3 326.5h1M3 331.5h1M3 336.5h1M3 354.5h1M4 256.5h1M4 257.5h1M4 277.5h1M4 320.5h1M4 325.5h1M5 183.5h1M5 208.5h1M5 221.5h1M5 222.5h1M5 223.5h1M5 232.5h1M5 237.5h1M5 256.5h1M5 257.5h1M5 263.5h1M5 264.5h1M5 265.5h1M5 266.5h1M5 281.5h1M5 287.5h1M5 350.5h1M6 6.5h1M6 7.5h1M6 19.5h1M6 20.5h1M6 144.5h1M7 5.5h1M7 8.5h1M7 42.5h1M7 43.5h1M7 77.5h1M7 131.5h1M7 152.5h1M8 24.5h1M8 25.5h1M8 35.5h1M8 55.5h1M8 57.5h1M8 151.5h1M8 157.5h1M8 193.5h1M9 36.5h1M9 54.5h1M9 57.5h1M9 84.5h1M9 85.5h1M9 102.5h1M9 116.5h1M9 128.5h1M9 149.5h1M9 162.5h1M9 172.5h1M9 212.5h1M10 0.5h1M10 7.5h1M10 33.5h1M10 34.5h1M10 35.5h1M10 152.5h1M11 17.5h1M11 19.5h1M11 39.5h1M11 52.5h1M11 72.5h1M11 91.5h1M11 119.5h1M11 139.5h1M11 140.5h1M11 153.5h1M11 154.5h1M11 155.5h1M11 164.5h1M11 177.5h1M11 178.5h1M11 189.5h1M11 193.5h1M11 196.5h1M11 205.5h1"/>
<path stroke="#C0D6EA" d="M0 186.5h1M0 213.5h1M0 217.5h1M0 229.5h1M0 237.5h1M0 253.5h1M0 274.5h1M0 278.5h1M0 281.5h1M0 282.5h1M0 291.5h1M0 329.5h1M0 336.5h1M0 337.5h1M0 353.5h1M0 354.5h1M0 356.5h1M0 358.5h1M1 169.5h1M1 183.5h1M1 202.5h1M1 216.5h1M1 217.5h1M1 221.5h1M1 232.5h1M1 234.5h1M1 235.5h1M1 254.5h1M1 258.5h1M1 272.5h1M1 275.5h1M1 289.5h1M1 297.5h1M1 298.5h1M1 303.5h1M1 304.5h1M1 307.5h1M1 308.5h1M1 310.5h1M1 311.5h1M1 321.5h1M1 343.5h1M1 344.5h1M2 215.5h1M2 233.5h1M2 234.5h1M2 235.5h1M2 237.5h1M2 326.5h1M2 327.5h1M2 335.5h1M2 340.5h1M2 342.5h1M2 357.5h1M3 191.5h1M3 229.5h1M3 245.5h1M3 246.5h1M3 251.5h1M3 285.5h1M3 305.5h1M3 306.5h1M3 312.5h1M3 321.5h1M3 357.5h1M3 358.5h1M3 359.5h1M3 365.5h1M4 216.5h1M4 243.5h1M4 246.5h1M4 250.5h1M4 251.5h1M4 253.5h1M4 255.5h1M4 324.5h1M4 330.5h1M5 236.5h1M5 238.5h1M5 246.5h1M5 250.5h1M5 251.5h1M5 252.5h1M5 262.5h1M5 273.5h1M5 338.5h1M5 343.5h1M5 346.5h1M5 354.5h1M5 355.5h1M6 21.5h1M6 25.5h1M6 146.5h1M6 152.5h1M7 25.5h1M7 26.5h1M7 31.5h1M7 39.5h1M7 40.5h1M7 44.5h1M7 61.5h1M7 120.5h1M7 138.5h1M7 148.5h1M7 149.5h1M7 180.5h1M7 217.5h1M8 21.5h1M8 26.5h1M8 32.5h1M8 38.5h1M8 49.5h1M8 50.5h1M8 52.5h1M8 58.5h1M8 109.5h1M8 137.5h1M8 182.5h1M8 198.5h1M8 199.5h1M8 303.5h1M9 19.5h1M9 34.5h1M9 47.5h1M9 56.5h1M9 75.5h1M9 76.5h1M9 77.5h1M9 82.5h1M9 98.5h1M9 99.5h1M9 137.5h1M9 140.5h1M9 141.5h1M9 143.5h1M9 144.5h1M9 150.5h1M9 152.5h1M9 153.5h1M9 173.5h1M9 174.5h1M9 216.5h1M10 8.5h1M10 11.5h1M10 13.5h1M10 14.5h1M10 150.5h1M10 155.5h1M10 156.5h1M10 172.5h1M11 43.5h1M11 48.5h1M11 55.5h1M11 59.5h1M11 92.5h1M11 102.5h1M11 137.5h1M11 152.5h1M11 165.5h1M11 168.5h1M11 171.5h1M11 174.5h1M11 198.5h1M11 218.5h1M11 257.5h1"/>
<path stroke="#C8DCEC" d="M0 224.5h1M0 228.5h1M0 232.5h1M0 245.5h1M0 258.5h1M0 284.5h1M0 330.5h1M0 363.5h1M0 364.5h1M0 365.5h1M1 209.5h1M1 290.5h1M1 305.5h1M1 312.5h1M1 315.5h1M1 316.5h1M1 318.5h1M1 355.5h1M2 61.5h1M2 200.5h1M2 201.5h1M2 210.5h1M2 211.5h1M2 227.5h1M2 311.5h1M2 323.5h1M2 343.5h1M2 345.5h1M2 352.5h1M2 364.5h1M3 221.5h1M3 222.5h1M3 224.5h1M3 236.5h1M3 238.5h1M3 239.5h1M3 247.5h1M3 277.5h1M3 296.5h1M3 297.5h1M3 301.5h1M3 304.5h1M3 310.5h1M3 315.5h1M3 325.5h1M3 356.5h1M4 220.5h1M4 225.5h1M4 237.5h1M4 241.5h1M4 278.5h1M4 279.5h1M4 288.5h1M5 187.5h1M5 204.5h1M5 214.5h1M5 219.5h1M5 224.5h1M5 225.5h1M5 226.5h1M5 233.5h1M5 243.5h1M5 244.5h1M5 270.5h1M5 271.5h1M5 288.5h1M5 294.5h1M5 302.5h1M5 318.5h1M5 328.5h1M5 331.5h1M5 335.5h1M5 337.5h1M5 341.5h1M5 345.5h1M5 348.5h1M5 349.5h1M5 361.5h1M6 129.5h1M6 130.5h1M6 157.5h1M7 7.5h1M7 10.5h1M7 11.5h1M7 32.5h1M7 34.5h1M7 36.5h1M7 106.5h1M7 107.5h1M7 122.5h1M7 129.5h1M7 136.5h1M7 137.5h1M7 143.5h1M7 173.5h1M7 181.5h1M8 23.5h1M8 30.5h1M8 40.5h1M8 41.5h1M8 51.5h1M8 56.5h1M8 96.5h1M8 115.5h1M8 150.5h1M8 192.5h1M8 202.5h1M9 46.5h1M9 68.5h1M9 69.5h1M9 70.5h1M9 79.5h1M9 81.5h1M9 87.5h1M9 91.5h1M9 96.5h1M9 97.5h1M9 105.5h1M9 108.5h1M9 109.5h1M9 117.5h1M9 118.5h1M9 129.5h1M9 164.5h1M9 178.5h1M10 2.5h1M10 12.5h1M10 160.5h1M11 61.5h1M11 64.5h1M11 71.5h1M11 78.5h1M11 142.5h1M11 162.5h1M11 172.5h1M11 173.5h1M11 199.5h1M11 203.5h1M11 204.5h1M11 210.5h1"/>
<path stroke="#CFE1EF" d="M0 211.5h1M0 219.5h1M0 223.5h1M0 227.5h1M0 234.5h1M0 235.5h1M0 243.5h1M0 249.5h1M0 347.5h1M1 210.5h1M1 211.5h1M1 230.5h1M1 231.5h1M1 237.5h1M1 239.5h1M1 240.5h1M1 242.5h1M1 243.5h1M1 253.5h1M1 293.5h1M1 323.5h1M1 330.5h1M1 341.5h1M1 348.5h1M1 352.5h1M2 184.5h1M2 185.5h1M2 223.5h1M2 226.5h1M2 229.5h1M2 230.5h1M2 231.5h1M2 232.5h1M2 281.5h1M2 299.5h1M2 307.5h1M2 318.5h1M2 319.5h1M2 336.5h1M2 346.5h1M2 348.5h1M2 365.5h1M3 185.5h1M3 188.5h1M3 212.5h1M3 213.5h1M3 217.5h1M3 233.5h1M3 234.5h1M3 237.5h1M3 259.5h1M3 273.5h1M3 276.5h1M3 295.5h1M3 308.5h1M3 309.5h1M3 311.5h1M3 318.5h1M3 319.5h1M3 320.5h1M3 334.5h1M3 335.5h1M3 351.5h1M3 352.5h1M3 353.5h1M3 355.5h1M3 362.5h1M4 183.5h1M4 221.5h1M4 223.5h1M4 236.5h1M4 239.5h1M4 254.5h1M4 258.5h1M4 259.5h1M4 276.5h1M4 285.5h1M4 286.5h1M4 292.5h1M4 297.5h1M4 305.5h1M4 326.5h1M4 328.5h1M4 332.5h1M5 188.5h1M5 189.5h1M5 203.5h1M5 216.5h1M5 241.5h1M5 254.5h1M5 279.5h1M5 286.5h1M5 293.5h1M5 295.5h1M5 300.5h1M5 310.5h1M5 312.5h1M5 314.5h1M5 317.5h1M5 322.5h1M5 323.5h1M5 327.5h1M5 329.5h1M5 336.5h1M5 339.5h1M5 360.5h1M6 124.5h1M6 138.5h1M6 153.5h1M6 160.5h1M7 6.5h1M7 19.5h1M7 23.5h1M7 51.5h1M7 56.5h1M7 84.5h1M7 96.5h1M7 121.5h1M7 128.5h1M7 151.5h1M7 156.5h1M7 168.5h1M7 169.5h1M8 22.5h1M8 29.5h1M8 44.5h1M8 53.5h1M8 91.5h1M8 101.5h1M8 106.5h1M8 108.5h1M8 110.5h1M8 116.5h1M8 147.5h1M8 148.5h1M8 187.5h1M8 190.5h1M8 201.5h1M8 205.5h1M8 215.5h1M8 298.5h1M8 299.5h1M9 11.5h1M9 35.5h1M9 37.5h1M9 55.5h1M9 67.5h1M9 93.5h1M9 94.5h1M9 103.5h1M9 104.5h1M9 127.5h1M10 9.5h1M10 26.5h1M10 27.5h1M10 165.5h1M10 170.5h1M11 15.5h1M11 40.5h1M11 41.5h1M11 42.5h1M11 63.5h1M11 65.5h1M11 70.5h1M11 88.5h1M11 89.5h1M11 90.5h1M11 97.5h1M11 120.5h1M11 121.5h1M11 125.5h1M11 133.5h1M11 135.5h1M11 138.5h1M11 147.5h1M11 169.5h1M11 170.5h1M11 188.5h1M11 190.5h1M11 195.5h1M11 202.5h1M11 207.5h1M11 211.5h1M11 215.5h1M11 216.5h1M11 254.5h1M11 255.5h1"/>
<path stroke="#D7E6F2" d="M0 238.5h1M0 239.5h1M0 240.5h1M0 247.5h1M0 250.5h1M0 273.5h1M0 279.5h1M0 290.5h1M0 348.5h1M1 187.5h1M1 222.5h1M1 223.5h1M1 227.5h1M1 314.5h1M1 317.5h1M1 322.5h1M1 324.5h1M1 327.5h1M1 333.5h1M1 334.5h1M1 339.5h1M1 340.5h1M2 186.5h1M2 190.5h1M2 199.5h1M2 207.5h1M2 208.5h1M2 214.5h1M2 218.5h1M2 219.5h1M2 308.5h1M2 309.5h1M2 310.5h1M2 344.5h1M2 354.5h1M2 356.5h1M3 186.5h1M3 208.5h1M3 209.5h1M3 232.5h1M3 252.5h1M3 253.5h1M3 269.5h1M3 279.5h1M3 282.5h1M3 283.5h1M3 284.5h1M3 287.5h1M3 290.5h1M3 298.5h1M3 299.5h1M3 302.5h1M4 186.5h1M4 201.5h1M4 205.5h1M4 207.5h1M4 213.5h1M4 214.5h1M4 217.5h1M4 218.5h1M4 219.5h1M4 224.5h1M4 247.5h1M4 248.5h1M4 270.5h1M4 274.5h1M4 281.5h1M4 293.5h1M4 327.5h1M5 182.5h1M5 192.5h1M5 193.5h1M5 239.5h1M5 275.5h1M5 296.5h1M5 301.5h1M5 313.5h1M5 316.5h1M5 319.5h1M5 320.5h1M5 324.5h1M5 325.5h1M5 326.5h1M5 330.5h1M5 358.5h1M5 365.5h1M6 134.5h1M6 154.5h1M6 158.5h1M6 159.5h1M6 173.5h1M7 16.5h1M7 35.5h1M7 37.5h1M7 38.5h1M7 52.5h1M7 53.5h1M7 54.5h1M7 55.5h1M7 64.5h1M7 76.5h1M7 97.5h1M7 125.5h1M7 126.5h1M7 132.5h1M7 157.5h1M7 158.5h1M7 170.5h1M7 174.5h1M7 175.5h1M7 178.5h1M8 20.5h1M8 27.5h1M8 28.5h1M8 54.5h1M8 61.5h1M8 92.5h1M8 93.5h1M8 94.5h1M8 102.5h1M8 104.5h1M8 118.5h1M8 146.5h1M8 197.5h1M8 297.5h1M8 300.5h1M8 301.5h1M9 63.5h1M9 64.5h1M9 65.5h1M9 66.5h1M9 74.5h1M9 78.5h1M9 80.5h1M9 86.5h1M9 88.5h1M9 110.5h1M9 112.5h1M9 138.5h1M9 142.5h1M9 169.5h1M9 177.5h1M9 214.5h1M10 10.5h1M10 161.5h1M11 44.5h1M11 45.5h1M11 53.5h1M11 56.5h1M11 66.5h1M11 67.5h1M11 68.5h1M11 73.5h1M11 82.5h1M11 84.5h1M11 87.5h1M11 101.5h1M11 132.5h1M11 145.5h1M11 150.5h1M11 151.5h1M11 163.5h1M11 175.5h1M11 186.5h1M11 209.5h1M11 214.5h1M11 258.5h1M11 259.5h1"/>
<path stroke="#DFEBF4" d="M0 190.5h1M0 252.5h1M0 283.5h1M1 178.5h1M1 201.5h1M1 207.5h1M1 224.5h1M1 288.5h1M1 338.5h1M2 134.5h1M2 189.5h1M2 193.5h1M2 194.5h1M2 196.5h1M2 198.5h1M2 209.5h1M2 228.5h1M2 251.5h1M2 265.5h1M2 266.5h1M2 267.5h1M2 301.5h1M2 353.5h1M2 355.5h1M2 363.5h1M3 249.5h1M3 254.5h1M3 278.5h1M3 294.5h1M3 307.5h1M3 314.5h1M3 364.5h1M4 211.5h1M4 222.5h1M4 244.5h1M4 245.5h1M4 249.5h1M4 282.5h1M4 284.5h1M4 314.5h1M4 322.5h1M4 334.5h1M4 335.5h1M5 184.5h1M5 185.5h1M5 190.5h1M5 205.5h1M5 215.5h1M5 217.5h1M5 218.5h1M5 227.5h1M5 230.5h1M5 231.5h1M5 245.5h1M5 253.5h1M5 267.5h1M5 276.5h1M5 289.5h1M5 291.5h1M5 315.5h1M5 321.5h1M5 344.5h1M5 353.5h1M5 357.5h1M5 359.5h1M7 20.5h1M7 47.5h1M7 48.5h1M7 49.5h1M7 57.5h1M7 60.5h1M7 83.5h1M7 119.5h1M7 139.5h1M7 154.5h1M7 176.5h1M8 31.5h1M8 33.5h1M8 45.5h1M8 46.5h1M8 47.5h1M8 60.5h1M8 63.5h1M8 90.5h1M8 99.5h1M8 112.5h1M8 117.5h1M8 119.5h1M8 120.5h1M8 128.5h1M8 131.5h1M8 132.5h1M8 183.5h1M8 191.5h1M8 196.5h1M8 208.5h1M8 295.5h1M8 302.5h1M9 95.5h1M9 120.5h1M9 121.5h1M9 122.5h1M9 130.5h1M9 131.5h1M9 132.5h1M9 209.5h1M9 215.5h1M10 5.5h1M10 6.5h1M10 158.5h1M10 177.5h1M10 181.5h1M11 57.5h1M11 77.5h1M11 81.5h1M11 112.5h1M11 131.5h1M11 134.5h1M11 144.5h1M11 148.5h1M11 149.5h1M11 176.5h1M11 197.5h1M11 206.5h1M11 212.5h1M11 213.5h1"/>
<path stroke="#E7F0F7" d="M0 251.5h1M0 280.5h1M0 359.5h1M0 360.5h1M1 175.5h1M1 325.5h1M1 326.5h1M1 329.5h1M1 331.5h1M1 336.5h1M1 346.5h1M1 349.5h1M1 350.5h1M2 45.5h1M2 46.5h1M2 133.5h1M2 191.5h1M2 192.5h1M2 202.5h1M2 212.5h1M2 213.5h1M2 240.5h1M2 245.5h1M2 250.5h1M2 290.5h1M2 292.5h1M2 332.5h1M2 333.5h1M2 359.5h1M2 360.5h1M3 184.5h1M3 265.5h1M3 266.5h1M3 267.5h1M3 275.5h1M3 286.5h1M3 293.5h1M3 300.5h1M3 360.5h1M3 361.5h1M4 184.5h1M4 185.5h1M4 193.5h1M4 228.5h1M4 238.5h1M4 240.5h1M4 269.5h1M4 294.5h1M4 295.5h1M4 296.5h1M4 298.5h1M4 299.5h1M4 300.5h1M4 313.5h1M4 316.5h1M4 318.5h1M4 333.5h1M4 353.5h1M4 357.5h1M5 48.5h1M5 67.5h1M5 77.5h1M5 194.5h1M5 195.5h1M5 196.5h1M5 197.5h1M5 199.5h1M5 200.5h1M5 202.5h1M5 206.5h1M5 209.5h1M5 255.5h1M5 258.5h1M5 259.5h1M5 260.5h1M5 261.5h1M5 272.5h1M5 290.5h1M5 292.5h1M5 307.5h1M5 311.5h1M5 334.5h1M5 356.5h1M6 155.5h1M6 165.5h1M6 171.5h1M6 172.5h1M6 178.5h1M7 21.5h1M7 29.5h1M7 30.5h1M7 70.5h1M7 71.5h1M7 124.5h1M7 153.5h1M7 155.5h1M7 167.5h1M7 171.5h1M7 172.5h1M7 179.5h1M7 214.5h1M7 218.5h1M8 59.5h1M8 98.5h1M8 111.5h1M8 133.5h1M8 135.5h1M8 143.5h1M8 144.5h1M8 184.5h1M8 185.5h1M8 186.5h1M8 194.5h1M8 195.5h1M8 220.5h1M8 305.5h1M9 72.5h1M9 73.5h1M9 90.5h1M9 92.5h1M9 106.5h1M9 113.5h1M9 119.5h1M9 126.5h1M9 139.5h1M9 195.5h1M9 202.5h1M9 203.5h1M9 210.5h1M9 217.5h1M9 218.5h1M10 166.5h1M10 171.5h1M10 179.5h1M10 293.5h1M11 74.5h1M11 85.5h1M11 86.5h1M11 93.5h1M11 122.5h1M11 124.5h1M11 136.5h1M11 143.5h1M11 146.5h1M11 181.5h1M11 183.5h1M11 184.5h1M11 185.5h1M11 208.5h1M11 217.5h1M11 223.5h1M11 224.5h1M11 227.5h1M11 250.5h1M11 260.5h1M11 265.5h1M11 267.5h1M11 272.5h1M11 284.5h1"/>
<path stroke="#EFF5FA" d="M0 222.5h1M0 246.5h1M0 328.5h1M1 172.5h1M1 173.5h1M1 203.5h1M1 236.5h1M1 241.5h1M1 347.5h1M1 351.5h1M2 40.5h1M2 54.5h1M2 188.5h1M2 203.5h1M2 238.5h1M2 239.5h1M2 247.5h1M2 279.5h1M2 280.5h1M2 283.5h1M2 286.5h1M2 289.5h1M2 294.5h1M2 295.5h1M2 296.5h1M2 300.5h1M2 304.5h1M2 305.5h1M2 306.5h1M2 317.5h1M2 362.5h1M3 167.5h1M3 181.5h1M3 196.5h1M3 218.5h1M3 219.5h1M3 223.5h1M3 255.5h1M3 256.5h1M3 263.5h1M3 264.5h1M3 268.5h1M3 363.5h1M4 189.5h1M4 194.5h1M4 195.5h1M4 200.5h1M4 204.5h1M4 209.5h1M4 226.5h1M4 264.5h1M4 265.5h1M4 266.5h1M4 271.5h1M4 272.5h1M4 283.5h1M4 321.5h1M4 341.5h1M4 351.5h1M5 61.5h1M5 65.5h1M5 191.5h1M5 198.5h1M5 201.5h1M5 207.5h1M5 212.5h1M5 213.5h1M5 228.5h1M5 229.5h1M5 268.5h1M5 297.5h1M5 303.5h1M5 305.5h1M5 306.5h1M5 309.5h1M6 162.5h1M6 163.5h1M6 164.5h1M6 166.5h1M7 67.5h1M7 68.5h1M7 69.5h1M7 78.5h1M7 88.5h1M7 89.5h1M7 118.5h1M7 146.5h1M7 205.5h1M7 206.5h1M7 213.5h1M7 220.5h1M7 280.5h1M8 62.5h1M8 64.5h1M8 97.5h1M8 105.5h1M8 107.5h1M8 122.5h1M8 134.5h1M8 141.5h1M8 145.5h1M8 288.5h1M8 304.5h1M9 89.5h1M9 111.5h1M9 200.5h1M9 201.5h1M9 204.5h1M9 205.5h1M9 211.5h1M9 213.5h1M10 167.5h1M10 168.5h1M10 169.5h1M10 295.5h1M11 14.5h1M11 83.5h1M11 117.5h1M11 128.5h1M11 179.5h1M11 180.5h1M11 182.5h1M11 219.5h1M11 220.5h1M11 251.5h1M11 277.5h1M11 291.5h1"/>
<path stroke="#F7FAFC" d="M0 24.5h1M0 60.5h1M0 61.5h1M0 62.5h1M0 177.5h1M0 178.5h1M0 241.5h1M0 242.5h1M1 168.5h1M1 180.5h1M1 229.5h1M1 328.5h1M1 332.5h1M1 335.5h1M1 337.5h1M2 2.5h1M2 195.5h1M2 197.5h1M2 216.5h1M2 224.5h1M2 241.5h1M2 244.5h1M2 246.5h1M2 252.5h1M2 253.5h1M2 258.5h1M2 273.5h1M2 284.5h1M2 291.5h1M2 303.5h1M2 314.5h1M3 115.5h1M3 117.5h1M3 118.5h1M3 153.5h1M3 248.5h1M3 257.5h1M3 260.5h1M4 190.5h1M4 210.5h1M4 229.5h1M4 230.5h1M4 233.5h1M4 234.5h1M4 235.5h1M4 267.5h1M4 268.5h1M4 273.5h1M4 287.5h1M4 291.5h1M4 306.5h1M4 307.5h1M4 308.5h1M4 310.5h1M4 319.5h1M4 323.5h1M4 331.5h1M4 340.5h1M4 350.5h1M4 358.5h1M4 359.5h1M4 364.5h1M5 38.5h1M5 59.5h1M5 66.5h1M5 86.5h1M5 87.5h1M5 186.5h1M5 210.5h1M5 211.5h1M5 308.5h1M6 167.5h1M6 168.5h1M6 169.5h1M7 58.5h1M7 62.5h1M7 86.5h1M7 98.5h1M7 113.5h1M7 117.5h1M7 130.5h1M7 147.5h1M7 150.5h1M7 159.5h1M7 200.5h1M7 219.5h1M7 221.5h1M7 223.5h1M7 236.5h1M8 67.5h1M8 80.5h1M8 100.5h1M8 103.5h1M8 114.5h1M8 124.5h1M8 140.5h1M8 149.5h1M8 203.5h1M8 206.5h1M8 207.5h1M8 214.5h1M8 216.5h1M8 228.5h1M8 229.5h1M8 230.5h1M8 306.5h1M8 313.5h1M8 356.5h1M8 357.5h1M9 125.5h1M9 220.5h1M10 159.5h1M10 178.5h1M10 294.5h1M11 95.5h1M11 103.5h1M11 104.5h1M11 105.5h1M11 109.5h1M11 118.5h1M11 201.5h1M11 221.5h1M11 226.5h1M11 228.5h1M11 252.5h1M11 256.5h1M11 261.5h1M11 263.5h1M11 264.5h1M11 283.5h1M11 285.5h1M11 287.5h1M11 349.5h1M11 350.5h1M11 361.5h1M11 362.5h1"/>
<path stroke="#FFFFFF" d="M0 19.5h1M0 230.5h1M1 156.5h1M1 167.5h1M1 170.5h1M1 171.5h1M2 142.5h1M2 187.5h1M2 220.5h1M2 242.5h1M2 243.5h1M2 263.5h1M2 264.5h1M2 288.5h1M2 302.5h1M2 312.5h1M3 173.5h1M3 174.5h1M3 187.5h1M3 258.5h1M3 274.5h1M3 281.5h1M4 182.5h1M4 187.5h1M4 188.5h1M4 191.5h1M4 197.5h1M4 203.5h1M4 208.5h1M4 301.5h1M4 302.5h1M4 303.5h1M4 304.5h1M4 315.5h1M4 355.5h1M4 356.5h1M4 361.5h1M4 362.5h1M4 363.5h1M4 365.5h1M5 54.5h1M5 62.5h1M5 63.5h1M5 115.5h1M5 116.5h1M5 122.5h1M5 123.5h1M5 220.5h1M5 269.5h1M6 170.5h1M6 174.5h1M6 179.5h1M6 180.5h1M6 181.5h1M7 24.5h1M7 59.5h1M7 65.5h1M7 66.5h1M7 75.5h1M7 85.5h1M7 90.5h1M7 103.5h1M7 104.5h1M7 105.5h1M7 110.5h1M7 111.5h1M7 112.5h1M7 127.5h1M7 163.5h1M7 165.5h1M7 199.5h1M7 215.5h1M7 222.5h1M7 271.5h1M8 65.5h1M8 84.5h1M8 95.5h1M8 113.5h1M8 130.5h1M8 142.5h1M8 217.5h1M8 219.5h1M8 231.5h1M8 292.5h1M8 294.5h1M8 307.5h1M8 308.5h1M8 318.5h1M8 354.5h1M8 359.5h1M9 71.5h1M9 176.5h1M9 196.5h1M9 206.5h1M9 207.5h1M9 208.5h1M10 180.5h1M11 62.5h1M11 69.5h1M11 75.5h1M11 79.5h1M11 80.5h1M11 98.5h1M11 99.5h1M11 100.5h1M11 106.5h1M11 114.5h1M11 115.5h1M11 126.5h1M11 200.5h1M11 247.5h1M11 262.5h1M11 266.5h1M11 269.5h1M11 273.5h1"/>
<path stroke="#FEF7F7" d="M0 17.5h1M0 18.5h1M0 30.5h1M0 31.5h1M0 32.5h1M0 55.5h1M0 97.5h1M0 102.5h1M1 179.5h1M1 287.5h1M2 1.5h1M2 25.5h1M2 41.5h1M2 49.5h1M2 53.5h1M2 59.5h1M2 60.5h1M2 70.5h1M2 148.5h1M2 149.5h1M2 204.5h1M2 205.5h1M2 206.5h1M2 259.5h1M2 268.5h1M2 282.5h1M2 287.5h1M2 293.5h1M2 361.5h1M3 116.5h1M3 136.5h1M3 137.5h1M3 159.5h1M3 220.5h1M3 262.5h1M3 271.5h1M3 280.5h1M4 192.5h1M4 231.5h1M4 289.5h1M4 309.5h1M4 311.5h1M4 312.5h1M4 317.5h1M4 339.5h1M4 342.5h1M4 343.5h1M4 346.5h1M4 349.5h1M4 352.5h1M4 354.5h1M5 7.5h1M5 8.5h1M5 13.5h1M5 49.5h1M5 50.5h1M5 52.5h1M5 53.5h1M5 64.5h1M5 79.5h1M5 80.5h1M5 110.5h1M5 121.5h1M5 128.5h1M6 161.5h1M6 245.5h1M7 72.5h1M7 74.5h1M7 80.5h1M7 82.5h1M7 87.5h1M7 93.5h1M7 94.5h1M7 164.5h1M7 166.5h1M7 204.5h1M7 212.5h1M7 251.5h1M7 252.5h1M7 278.5h1M7 279.5h1M8 121.5h1M8 138.5h1M8 139.5h1M8 204.5h1M8 221.5h1M8 291.5h1M8 293.5h1M8 358.5h1M8 360.5h1M8 361.5h1M9 123.5h1M9 221.5h1M10 173.5h1M10 174.5h1M10 175.5h1M10 289.5h1M11 13.5h1M11 94.5h1M11 96.5h1M11 113.5h1M11 123.5h1M11 127.5h1M11 130.5h1M11 222.5h1M11 229.5h1M11 230.5h1M11 253.5h1M11 268.5h1M11 297.5h1M11 298.5h1M11 299.5h1M11 300.5h1M11 353.5h1M11 354.5h1M11 355.5h1M11 360.5h1M11 363.5h1M11 364.5h1"/>
<path stroke="#FDEFEF" d="M0 98.5h1M0 100.5h1M1 161.5h1M1 177.5h1M2 5.5h1M2 36.5h1M2 37.5h1M2 38.5h1M2 42.5h1M2 50.5h1M2 58.5h1M2 64.5h1M2 66.5h1M2 130.5h1M2 132.5h1M2 217.5h1M2 222.5h1M2 256.5h1M2 257.5h1M2 261.5h1M2 262.5h1M2 276.5h1M2 285.5h1M2 313.5h1M2 358.5h1M3 65.5h1M3 126.5h1M3 151.5h1M3 152.5h1M3 161.5h1M3 168.5h1M3 171.5h1M3 172.5h1M4 198.5h1M4 227.5h1M4 232.5h1M4 290.5h1M4 336.5h1M4 344.5h1M4 347.5h1M4 348.5h1M4 360.5h1M5 2.5h1M5 20.5h1M5 45.5h1M5 46.5h1M5 47.5h1M5 57.5h1M5 70.5h1M5 72.5h1M5 73.5h1M5 76.5h1M5 99.5h1M5 124.5h1M5 127.5h1M5 129.5h1M5 130.5h1M5 131.5h1M5 132.5h1M5 133.5h1M5 298.5h1M6 177.5h1M7 73.5h1M7 81.5h1M7 95.5h1M7 99.5h1M7 101.5h1M7 115.5h1M7 177.5h1M7 198.5h1M7 201.5h1M7 203.5h1M7 210.5h1M7 258.5h1M7 259.5h1M7 281.5h1M8 70.5h1M8 81.5h1M8 82.5h1M8 89.5h1M8 123.5h1M8 209.5h1M8 210.5h1M8 211.5h1M8 312.5h1M8 352.5h1M9 197.5h1M9 198.5h1M9 219.5h1M10 290.5h1M10 291.5h1M10 292.5h1M10 296.5h1M10 297.5h1M11 76.5h1M11 110.5h1M11 111.5h1M11 129.5h1M11 245.5h1M11 274.5h1M11 288.5h1M11 295.5h1M11 315.5h1M11 316.5h1M11 317.5h1M11 318.5h1"/>
<path stroke="#FCE6E7" d="M0 14.5h1M0 16.5h1M0 23.5h1M0 26.5h1M0 56.5h1M0 63.5h1M0 67.5h1M0 101.5h1M1 116.5h1M1 157.5h1M1 158.5h1M1 162.5h1M1 163.5h1M1 164.5h1M1 166.5h1M1 174.5h1M2 10.5h1M2 39.5h1M2 47.5h1M2 48.5h1M2 51.5h1M2 55.5h1M2 56.5h1M2 57.5h1M2 102.5h1M2 105.5h1M2 106.5h1M2 118.5h1M2 119.5h1M2 122.5h1M2 136.5h1M2 139.5h1M2 140.5h1M2 180.5h1M2 181.5h1M2 221.5h1M2 225.5h1M2 255.5h1M3 52.5h1M3 64.5h1M3 105.5h1M3 112.5h1M3 113.5h1M3 119.5h1M3 127.5h1M3 128.5h1M3 145.5h1M3 162.5h1M3 261.5h1M4 199.5h1M4 202.5h1M4 212.5h1M4 337.5h1M4 338.5h1M5 71.5h1M5 74.5h1M5 105.5h1M5 299.5h1M6 239.5h1M6 337.5h1M6 338.5h1M7 79.5h1M7 100.5h1M7 108.5h1M7 109.5h1M7 191.5h1M7 202.5h1M7 237.5h1M7 238.5h1M7 239.5h1M7 269.5h1M7 270.5h1M7 272.5h1M8 66.5h1M8 68.5h1M8 83.5h1M8 85.5h1M8 86.5h1M8 87.5h1M8 125.5h1M8 126.5h1M8 129.5h1M8 212.5h1M8 224.5h1M8 225.5h1M8 239.5h1M8 240.5h1M8 289.5h1M8 290.5h1M8 310.5h1M8 314.5h1M9 124.5h1M9 233.5h1M9 356.5h1M9 360.5h1M11 116.5h1M11 270.5h1M11 271.5h1M11 275.5h1M11 276.5h1M11 281.5h1M11 282.5h1M11 289.5h1M11 335.5h1M11 340.5h1M11 342.5h1M11 352.5h1M11 356.5h1M11 365.5h1"/>
<path stroke="#FBDEDF" d="M0 0.5h1M0 21.5h1M0 22.5h1M0 29.5h1M0 68.5h1M1 137.5h1M1 145.5h1M1 146.5h1M1 147.5h1M1 176.5h1M1 181.5h1M2 4.5h1M2 19.5h1M2 20.5h1M2 26.5h1M2 27.5h1M2 35.5h1M2 62.5h1M2 63.5h1M2 69.5h1M2 109.5h1M2 113.5h1M2 123.5h1M2 126.5h1M2 141.5h1M2 254.5h1M2 260.5h1M2 269.5h1M2 271.5h1M2 272.5h1M3 114.5h1M3 133.5h1M3 143.5h1M3 150.5h1M3 154.5h1M3 156.5h1M3 157.5h1M3 158.5h1M3 160.5h1M3 175.5h1M3 180.5h1M4 196.5h1M5 0.5h1M5 6.5h1M5 10.5h1M5 11.5h1M5 12.5h1M5 31.5h1M5 35.5h1M5 36.5h1M5 43.5h1M5 58.5h1M5 60.5h1M5 78.5h1M5 111.5h1M5 117.5h1M5 135.5h1M5 141.5h1M5 147.5h1M5 148.5h1M5 159.5h1M6 175.5h1M6 242.5h1M6 278.5h1M6 279.5h1M6 280.5h1M7 63.5h1M7 91.5h1M7 92.5h1M7 102.5h1M7 186.5h1M7 193.5h1M7 207.5h1M7 208.5h1M7 209.5h1M7 224.5h1M7 250.5h1M7 253.5h1M7 260.5h1M7 267.5h1M7 268.5h1M7 276.5h1M7 277.5h1M8 69.5h1M8 79.5h1M8 213.5h1M8 218.5h1M8 222.5h1M8 223.5h1M8 226.5h1M8 234.5h1M8 238.5h1M8 250.5h1M8 316.5h1M8 326.5h1M8 353.5h1M8 355.5h1M9 191.5h1M9 192.5h1M9 194.5h1M9 199.5h1M9 224.5h1M9 225.5h1M9 350.5h1M9 364.5h1M10 248.5h1M10 249.5h1M10 275.5h1M10 301.5h1M10 304.5h1M11 12.5h1M11 107.5h1M11 232.5h1M11 237.5h1M11 239.5h1M11 241.5h1M11 279.5h1M11 280.5h1M11 286.5h1M11 301.5h1M11 303.5h1M11 309.5h1M11 310.5h1M11 323.5h1M11 331.5h1M11 332.5h1M11 336.5h1M11 348.5h1"/>
<path stroke="#FAD6D6" d="M0 9.5h1M0 53.5h1M0 54.5h1M0 58.5h1M0 64.5h1M0 65.5h1M0 66.5h1M0 176.5h1M0 179.5h1M0 181.5h1M1 7.5h1M1 80.5h1M1 126.5h1M1 142.5h1M1 143.5h1M1 144.5h1M1 149.5h1M1 155.5h1M1 159.5h1M2 9.5h1M2 17.5h1M2 34.5h1M2 44.5h1M2 71.5h1M2 72.5h1M2 107.5h1M2 108.5h1M2 114.5h1M2 116.5h1M2 143.5h1M2 179.5h1M2 248.5h1M2 249.5h1M2 275.5h1M3 53.5h1M3 62.5h1M3 72.5h1M3 102.5h1M3 134.5h1M3 135.5h1M3 140.5h1M3 146.5h1M3 148.5h1M3 155.5h1M3 170.5h1M3 270.5h1M3 272.5h1M4 71.5h1M4 128.5h1M4 171.5h1M5 9.5h1M5 44.5h1M5 51.5h1M5 75.5h1M5 81.5h1M5 114.5h1M5 118.5h1M5 120.5h1M5 126.5h1M5 134.5h1M5 158.5h1M5 170.5h1M6 176.5h1M6 236.5h1M6 244.5h1M6 262.5h1M6 292.5h1M7 160.5h1M7 161.5h1M7 162.5h1M7 190.5h1M7 196.5h1M7 211.5h1M7 216.5h1M7 230.5h1M7 233.5h1M7 234.5h1M7 261.5h1M7 282.5h1M7 284.5h1M7 288.5h1M8 75.5h1M8 76.5h1M8 127.5h1M8 227.5h1M8 257.5h1M8 277.5h1M8 278.5h1M8 287.5h1M8 317.5h1M8 350.5h1M8 351.5h1M8 363.5h1M8 364.5h1M9 186.5h1M9 189.5h1M9 190.5h1M9 227.5h1M9 250.5h1M9 256.5h1M9 335.5h1M9 342.5h1M9 346.5h1M9 348.5h1M9 357.5h1M10 303.5h1M11 11.5h1M11 108.5h1M11 225.5h1M11 248.5h1M11 290.5h1M11 293.5h1M11 296.5h1M11 305.5h1M11 306.5h1M11 307.5h1M11 311.5h1M11 314.5h1M11 326.5h1M11 333.5h1M11 339.5h1M11 345.5h1M11 359.5h1"/>
<path stroke="#F9CECE" d="M0 1.5h1M0 7.5h1M0 8.5h1M0 10.5h1M0 11.5h1M0 15.5h1M0 46.5h1M0 47.5h1M0 52.5h1M0 59.5h1M0 82.5h1M0 87.5h1M0 95.5h1M1 4.5h1M1 8.5h1M1 70.5h1M1 108.5h1M1 128.5h1M1 134.5h1M2 6.5h1M2 11.5h1M2 12.5h1M2 21.5h1M2 24.5h1M2 28.5h1M2 67.5h1M2 68.5h1M2 86.5h1M2 88.5h1M2 94.5h1M2 110.5h1M2 120.5h1M2 124.5h1M2 125.5h1M2 131.5h1M2 144.5h1M2 161.5h1M2 162.5h1M2 270.5h1M2 277.5h1M2 278.5h1M3 18.5h1M3 73.5h1M3 103.5h1M3 129.5h1M3 132.5h1M3 139.5h1M3 142.5h1M3 147.5h1M4 148.5h1M4 160.5h1M4 345.5h1M5 1.5h1M5 3.5h1M5 4.5h1M5 5.5h1M5 25.5h1M5 26.5h1M5 27.5h1M5 29.5h1M5 41.5h1M5 42.5h1M5 91.5h1M5 92.5h1M5 102.5h1M5 108.5h1M5 109.5h1M5 113.5h1M5 139.5h1M5 145.5h1M5 146.5h1M5 304.5h1M6 274.5h1M6 281.5h1M6 326.5h1M6 329.5h1M6 339.5h1M7 114.5h1M7 116.5h1M7 197.5h1M7 229.5h1M7 232.5h1M7 235.5h1M7 244.5h1M7 247.5h1M7 275.5h1M7 291.5h1M7 309.5h1M7 336.5h1M8 71.5h1M8 73.5h1M8 233.5h1M8 279.5h1M8 315.5h1M8 325.5h1M8 329.5h1M8 333.5h1M9 182.5h1M9 183.5h1M9 184.5h1M9 185.5h1M9 222.5h1M9 231.5h1M9 261.5h1M9 321.5h1M9 338.5h1M9 339.5h1M9 358.5h1M10 176.5h1M10 246.5h1M10 298.5h1M10 317.5h1M11 231.5h1M11 233.5h1M11 234.5h1M11 238.5h1M11 242.5h1M11 246.5h1M11 249.5h1M11 278.5h1M11 302.5h1M11 308.5h1M11 330.5h1M11 346.5h1M11 347.5h1"/>
<path stroke="#F8C6C6" d="M0 2.5h1M0 27.5h1M0 28.5h1M0 40.5h1M0 43.5h1M0 48.5h1M0 69.5h1M0 70.5h1M0 71.5h1M0 74.5h1M0 75.5h1M0 77.5h1M0 91.5h1M0 93.5h1M0 94.5h1M0 104.5h1M0 165.5h1M0 166.5h1M0 168.5h1M1 110.5h1M1 117.5h1M1 148.5h1M1 150.5h1M1 160.5h1M1 165.5h1M2 33.5h1M2 73.5h1M2 78.5h1M2 89.5h1M2 97.5h1M2 137.5h1M2 274.5h1M3 66.5h1M3 67.5h1M3 68.5h1M3 98.5h1M3 99.5h1M3 107.5h1M3 108.5h1M3 120.5h1M3 121.5h1M3 130.5h1M3 141.5h1M3 144.5h1M3 163.5h1M3 164.5h1M3 166.5h1M3 169.5h1M3 178.5h1M3 179.5h1M5 17.5h1M5 24.5h1M5 28.5h1M5 32.5h1M5 37.5h1M5 40.5h1M5 68.5h1M5 69.5h1M5 84.5h1M5 89.5h1M5 90.5h1M5 98.5h1M5 107.5h1M5 112.5h1M5 138.5h1M5 151.5h1M6 247.5h1M6 248.5h1M6 249.5h1M6 273.5h1M6 330.5h1M6 331.5h1M6 355.5h1M6 363.5h1M7 182.5h1M7 184.5h1M7 187.5h1M7 195.5h1M7 245.5h1M7 246.5h1M7 249.5h1M7 256.5h1M7 257.5h1M7 262.5h1M7 266.5h1M7 323.5h1M7 324.5h1M7 328.5h1M7 333.5h1M7 334.5h1M7 335.5h1M7 342.5h1M8 74.5h1M8 78.5h1M8 232.5h1M8 236.5h1M8 237.5h1M8 253.5h1M8 262.5h1M8 324.5h1M8 327.5h1M8 328.5h1M8 343.5h1M8 346.5h1M8 347.5h1M9 193.5h1M9 232.5h1M9 251.5h1M9 320.5h1M9 323.5h1M9 324.5h1M9 326.5h1M9 337.5h1M9 341.5h1M9 347.5h1M9 349.5h1M9 352.5h1M9 361.5h1M9 362.5h1M9 363.5h1M10 235.5h1M10 239.5h1M10 240.5h1M10 277.5h1M10 288.5h1M10 302.5h1M11 9.5h1M11 236.5h1M11 240.5h1M11 243.5h1M11 244.5h1M11 294.5h1M11 313.5h1M11 320.5h1M11 324.5h1M11 325.5h1M11 328.5h1M11 329.5h1M11 337.5h1"/>
<path stroke="#F7BEBE" d="M0 3.5h1M0 13.5h1M0 25.5h1M0 39.5h1M0 76.5h1M0 78.5h1M0 79.5h1M0 80.5h1M0 81.5h1M0 86.5h1M0 96.5h1M0 103.5h1M1 23.5h1M1 114.5h1M1 118.5h1M2 3.5h1M2 7.5h1M2 8.5h1M2 13.5h1M2 18.5h1M2 30.5h1M2 32.5h1M2 43.5h1M2 65.5h1M2 92.5h1M2 93.5h1M2 100.5h1M2 104.5h1M2 121.5h1M2 151.5h1M2 163.5h1M2 166.5h1M2 173.5h1M3 8.5h1M3 22.5h1M3 50.5h1M3 54.5h1M3 63.5h1M3 69.5h1M3 82.5h1M3 94.5h1M3 106.5h1M3 109.5h1M3 122.5h1M3 124.5h1M3 125.5h1M3 165.5h1M4 24.5h1M4 72.5h1M4 126.5h1M4 127.5h1M4 149.5h1M4 175.5h1M4 176.5h1M5 55.5h1M5 56.5h1M5 85.5h1M5 88.5h1M5 95.5h1M5 96.5h1M5 101.5h1M5 143.5h1M5 152.5h1M5 162.5h1M6 243.5h1M6 246.5h1M6 253.5h1M6 263.5h1M6 275.5h1M6 314.5h1M6 336.5h1M6 358.5h1M7 185.5h1M7 188.5h1M7 189.5h1M7 225.5h1M7 242.5h1M7 254.5h1M7 285.5h1M7 287.5h1M7 292.5h1M7 294.5h1M7 346.5h1M7 347.5h1M7 348.5h1M7 352.5h1M8 72.5h1M8 88.5h1M8 235.5h1M8 258.5h1M8 259.5h1M8 309.5h1M8 311.5h1M8 321.5h1M8 322.5h1M8 365.5h1M9 187.5h1M9 188.5h1M9 223.5h1M9 228.5h1M9 242.5h1M9 254.5h1M9 286.5h1M9 327.5h1M9 336.5h1M9 340.5h1M9 353.5h1M9 355.5h1M10 234.5h1M10 237.5h1M10 238.5h1M10 241.5h1M10 272.5h1M10 282.5h1M10 286.5h1M10 305.5h1M10 315.5h1M10 322.5h1M10 364.5h1M11 10.5h1M11 235.5h1M11 292.5h1M11 312.5h1M11 319.5h1M11 321.5h1M11 327.5h1M11 338.5h1M11 351.5h1M11 357.5h1"/>
<path stroke="#F6B5B6" d="M0 5.5h1M0 12.5h1M0 34.5h1M0 41.5h1M0 42.5h1M0 51.5h1M0 88.5h1M0 89.5h1M0 99.5h1M0 154.5h1M0 164.5h1M0 169.5h1M0 172.5h1M1 5.5h1M1 21.5h1M1 22.5h1M1 85.5h1M1 92.5h1M1 107.5h1M1 115.5h1M1 120.5h1M1 135.5h1M1 136.5h1M1 151.5h1M2 23.5h1M2 52.5h1M2 74.5h1M2 79.5h1M2 95.5h1M2 96.5h1M2 99.5h1M2 101.5h1M2 103.5h1M2 112.5h1M2 135.5h1M2 147.5h1M2 154.5h1M2 155.5h1M2 156.5h1M2 174.5h1M3 48.5h1M3 83.5h1M3 88.5h1M3 89.5h1M3 123.5h1M3 149.5h1M3 177.5h1M4 0.5h1M4 13.5h1M4 16.5h1M4 25.5h1M4 26.5h1M4 81.5h1M4 124.5h1M4 125.5h1M4 129.5h1M4 139.5h1M4 174.5h1M5 19.5h1M5 82.5h1M5 83.5h1M5 103.5h1M5 119.5h1M5 149.5h1M5 153.5h1M5 154.5h1M5 155.5h1M5 160.5h1M5 163.5h1M5 169.5h1M5 175.5h1M6 238.5h1M6 252.5h1M6 254.5h1M6 286.5h1M6 302.5h1M6 306.5h1M6 312.5h1M6 321.5h1M6 322.5h1M6 327.5h1M6 332.5h1M6 341.5h1M6 342.5h1M6 349.5h1M6 354.5h1M6 364.5h1M6 365.5h1M7 226.5h1M7 227.5h1M7 240.5h1M7 241.5h1M7 248.5h1M7 264.5h1M7 265.5h1M7 286.5h1M7 303.5h1M7 304.5h1M7 326.5h1M7 341.5h1M7 343.5h1M7 349.5h1M7 357.5h1M8 77.5h1M8 246.5h1M8 247.5h1M8 252.5h1M8 256.5h1M8 263.5h1M8 265.5h1M8 280.5h1M8 323.5h1M8 330.5h1M8 331.5h1M8 332.5h1M8 338.5h1M8 342.5h1M8 345.5h1M8 349.5h1M9 255.5h1M9 328.5h1M9 334.5h1M10 276.5h1M10 281.5h1M10 283.5h1M10 300.5h1M10 314.5h1M10 320.5h1M10 349.5h1M10 361.5h1M10 365.5h1M11 334.5h1M11 341.5h1M11 343.5h1"/>
<path stroke="#F5ADAE" d="M0 4.5h1M0 35.5h1M0 38.5h1M0 57.5h1M0 73.5h1M0 92.5h1M0 171.5h1M0 173.5h1M0 174.5h1M0 175.5h1M0 180.5h1M1 0.5h1M1 9.5h1M1 10.5h1M1 17.5h1M1 69.5h1M1 74.5h1M1 86.5h1M1 111.5h1M1 122.5h1M1 127.5h1M1 129.5h1M1 130.5h1M1 132.5h1M1 133.5h1M1 152.5h1M1 153.5h1M2 0.5h1M2 14.5h1M2 16.5h1M2 31.5h1M2 75.5h1M2 111.5h1M2 117.5h1M2 138.5h1M2 145.5h1M2 150.5h1M2 169.5h1M2 170.5h1M2 175.5h1M2 176.5h1M3 19.5h1M3 23.5h1M3 28.5h1M3 31.5h1M3 32.5h1M3 33.5h1M3 37.5h1M3 38.5h1M3 39.5h1M3 40.5h1M3 41.5h1M3 42.5h1M3 77.5h1M3 90.5h1M3 91.5h1M3 95.5h1M3 104.5h1M3 131.5h1M3 176.5h1M4 12.5h1M4 89.5h1M4 132.5h1M4 138.5h1M4 140.5h1M4 152.5h1M4 153.5h1M4 154.5h1M4 155.5h1M4 163.5h1M4 169.5h1M4 170.5h1M4 177.5h1M5 21.5h1M5 30.5h1M5 39.5h1M5 97.5h1M5 104.5h1M5 140.5h1M5 142.5h1M5 165.5h1M5 166.5h1M6 234.5h1M6 251.5h1M6 256.5h1M6 259.5h1M6 260.5h1M6 277.5h1M6 282.5h1M6 283.5h1M6 287.5h1M6 303.5h1M6 305.5h1M6 311.5h1M6 313.5h1M6 325.5h1M6 328.5h1M6 334.5h1M7 228.5h1M7 273.5h1M7 274.5h1M7 295.5h1M7 305.5h1M7 314.5h1M7 315.5h1M7 319.5h1M7 327.5h1M7 339.5h1M7 364.5h1M8 243.5h1M8 245.5h1M8 254.5h1M8 255.5h1M8 267.5h1M8 285.5h1M8 286.5h1M8 320.5h1M8 336.5h1M8 340.5h1M8 341.5h1M8 348.5h1M9 241.5h1M9 244.5h1M9 257.5h1M9 259.5h1M9 276.5h1M9 314.5h1M9 351.5h1M9 365.5h1M10 247.5h1M10 251.5h1M10 269.5h1M10 273.5h1M10 274.5h1M10 280.5h1M10 284.5h1M10 285.5h1M10 306.5h1M10 311.5h1M10 312.5h1M10 313.5h1M10 318.5h1M10 319.5h1M10 328.5h1M10 362.5h1M11 304.5h1"/>
<path stroke="#F4A5A6" d="M0 36.5h1M0 50.5h1M0 72.5h1M0 109.5h1M0 110.5h1M0 153.5h1M0 157.5h1M1 2.5h1M1 6.5h1M1 11.5h1M1 12.5h1M1 16.5h1M1 18.5h1M1 31.5h1M1 76.5h1M1 89.5h1M1 106.5h1M1 109.5h1M1 112.5h1M1 121.5h1M1 123.5h1M1 124.5h1M1 125.5h1M2 22.5h1M2 76.5h1M2 87.5h1M2 98.5h1M2 127.5h1M2 146.5h1M2 152.5h1M2 153.5h1M2 177.5h1M2 178.5h1M3 2.5h1M3 16.5h1M3 20.5h1M3 21.5h1M3 25.5h1M3 35.5h1M3 36.5h1M3 58.5h1M3 59.5h1M3 60.5h1M3 61.5h1M3 71.5h1M3 79.5h1M3 81.5h1M3 86.5h1M4 1.5h1M4 8.5h1M4 10.5h1M4 23.5h1M4 40.5h1M4 74.5h1M4 130.5h1M4 131.5h1M4 151.5h1M5 14.5h1M5 22.5h1M5 93.5h1M5 94.5h1M5 136.5h1M5 137.5h1M5 144.5h1M5 150.5h1M5 156.5h1M5 157.5h1M5 168.5h1M5 181.5h1M6 255.5h1M6 261.5h1M6 265.5h1M6 266.5h1M6 271.5h1M6 284.5h1M6 304.5h1M6 318.5h1M6 320.5h1M6 323.5h1M6 333.5h1M6 348.5h1M6 357.5h1M7 192.5h1M7 263.5h1M7 283.5h1M7 289.5h1M7 290.5h1M7 302.5h1M7 320.5h1M7 325.5h1M7 332.5h1M7 351.5h1M8 241.5h1M8 242.5h1M8 264.5h1M8 270.5h1M8 319.5h1M8 334.5h1M9 234.5h1M9 243.5h1M9 248.5h1M9 249.5h1M9 252.5h1M9 258.5h1M9 260.5h1M9 279.5h1M9 313.5h1M9 315.5h1M9 322.5h1M9 343.5h1M9 344.5h1M9 345.5h1M9 354.5h1M10 236.5h1M10 265.5h1M10 266.5h1M10 279.5h1M10 307.5h1M10 316.5h1M10 323.5h1M10 327.5h1M10 330.5h1M10 344.5h1M10 352.5h1M10 354.5h1M10 357.5h1M11 4.5h1M11 358.5h1"/>
<path stroke="#F39D9E" d="M0 6.5h1M0 20.5h1M0 33.5h1M0 84.5h1M0 85.5h1M0 163.5h1M1 13.5h1M1 24.5h1M1 28.5h1M1 29.5h1M1 75.5h1M1 79.5h1M1 82.5h1M1 88.5h1M1 97.5h1M1 98.5h1M1 104.5h1M1 113.5h1M1 131.5h1M1 138.5h1M2 15.5h1M2 29.5h1M2 77.5h1M2 115.5h1M2 128.5h1M2 129.5h1M2 159.5h1M2 160.5h1M2 165.5h1M2 167.5h1M2 168.5h1M3 0.5h1M3 1.5h1M3 10.5h1M3 11.5h1M3 12.5h1M3 17.5h1M3 27.5h1M3 29.5h1M3 30.5h1M3 45.5h1M3 51.5h1M3 55.5h1M3 56.5h1M3 57.5h1M3 84.5h1M3 93.5h1M3 96.5h1M3 97.5h1M3 101.5h1M4 5.5h1M4 11.5h1M4 27.5h1M4 70.5h1M4 82.5h1M4 122.5h1M4 123.5h1M4 143.5h1M4 146.5h1M4 147.5h1M4 150.5h1M4 159.5h1M4 161.5h1M5 15.5h1M5 23.5h1M5 33.5h1M5 34.5h1M5 106.5h1M5 125.5h1M5 161.5h1M5 164.5h1M5 167.5h1M5 179.5h1M6 231.5h1M6 235.5h1M6 240.5h1M6 241.5h1M6 257.5h1M6 268.5h1M6 272.5h1M6 288.5h1M6 289.5h1M6 293.5h1M6 294.5h1M6 295.5h1M6 296.5h1M6 300.5h1M6 307.5h1M6 315.5h1M6 316.5h1M6 317.5h1M6 319.5h1M6 340.5h1M6 350.5h1M6 352.5h1M7 231.5h1M7 243.5h1M7 293.5h1M7 299.5h1M7 329.5h1M7 330.5h1M7 331.5h1M7 344.5h1M7 355.5h1M7 356.5h1M7 358.5h1M7 363.5h1M7 365.5h1M8 244.5h1M8 248.5h1M8 261.5h1M8 274.5h1M8 276.5h1M8 284.5h1M8 362.5h1M9 239.5h1M9 240.5h1M9 262.5h1M9 263.5h1M9 275.5h1M9 283.5h1M9 284.5h1M9 312.5h1M9 316.5h1M9 325.5h1M10 228.5h1M10 245.5h1M10 259.5h1M10 260.5h1M10 267.5h1M10 268.5h1M10 308.5h1M10 334.5h1M10 338.5h1M10 339.5h1M10 353.5h1M10 356.5h1M11 0.5h1M11 3.5h1"/>
<path stroke="#F29596" d="M0 37.5h1M0 45.5h1M0 49.5h1M0 90.5h1M0 107.5h1M0 160.5h1M0 161.5h1M0 162.5h1M1 1.5h1M1 3.5h1M1 14.5h1M1 15.5h1M1 20.5h1M1 26.5h1M1 30.5h1M1 55.5h1M1 65.5h1M1 81.5h1M1 84.5h1M1 91.5h1M1 99.5h1M1 105.5h1M2 82.5h1M2 83.5h1M3 3.5h1M3 5.5h1M3 6.5h1M3 7.5h1M3 14.5h1M3 49.5h1M3 74.5h1M3 76.5h1M3 78.5h1M3 87.5h1M3 92.5h1M3 110.5h1M3 111.5h1M3 138.5h1M4 14.5h1M4 17.5h1M4 64.5h1M4 65.5h1M4 66.5h1M4 75.5h1M4 133.5h1M4 134.5h1M4 135.5h1M4 137.5h1M4 142.5h1M4 156.5h1M4 162.5h1M4 164.5h1M4 165.5h1M4 172.5h1M4 173.5h1M4 180.5h1M5 16.5h1M5 100.5h1M5 180.5h1M6 224.5h1M6 233.5h1M6 264.5h1M6 270.5h1M6 301.5h1M6 308.5h1M6 309.5h1M6 310.5h1M6 324.5h1M6 335.5h1M6 344.5h1M6 345.5h1M6 346.5h1M6 356.5h1M6 359.5h1M6 361.5h1M6 362.5h1M7 183.5h1M7 194.5h1M7 255.5h1M7 306.5h1M7 310.5h1M7 311.5h1M7 316.5h1M7 322.5h1M7 337.5h1M7 338.5h1M7 345.5h1M8 249.5h1M8 251.5h1M8 275.5h1M8 282.5h1M8 335.5h1M8 337.5h1M8 339.5h1M9 230.5h1M9 238.5h1M9 253.5h1M9 264.5h1M9 268.5h1M9 293.5h1M9 294.5h1M9 304.5h1M9 306.5h1M9 333.5h1M9 359.5h1M10 242.5h1M10 252.5h1M10 263.5h1M10 271.5h1M10 299.5h1M10 310.5h1M10 321.5h1M10 331.5h1M10 332.5h1M10 350.5h1M10 351.5h1M11 1.5h1M11 2.5h1M11 5.5h1M11 7.5h1M11 8.5h1M11 344.5h1"/>
<path stroke="#F28C8E" d="M0 44.5h1M0 111.5h1M0 158.5h1M0 167.5h1M0 170.5h1M1 19.5h1M1 87.5h1M1 94.5h1M1 95.5h1M1 96.5h1M1 101.5h1M1 119.5h1M1 139.5h1M1 154.5h1M2 81.5h1M2 84.5h1M2 85.5h1M2 90.5h1M2 91.5h1M2 164.5h1M3 13.5h1M3 46.5h1M3 47.5h1M3 70.5h1M3 75.5h1M3 85.5h1M3 100.5h1M4 3.5h1M4 22.5h1M4 39.5h1M4 83.5h1M4 91.5h1M4 141.5h1M4 158.5h1M4 167.5h1M4 168.5h1M4 179.5h1M5 18.5h1M5 171.5h1M5 172.5h1M5 173.5h1M6 237.5h1M6 258.5h1M6 269.5h1M6 276.5h1M6 297.5h1M6 298.5h1M6 343.5h1M6 351.5h1M6 360.5h1M7 317.5h1M7 353.5h1M8 260.5h1M8 268.5h1M8 269.5h1M8 271.5h1M8 281.5h1M8 344.5h1M9 226.5h1M9 229.5h1M9 235.5h1M9 236.5h1M9 247.5h1M9 265.5h1M9 266.5h1M9 267.5h1M9 271.5h1M9 272.5h1M9 273.5h1M9 280.5h1M9 285.5h1M9 287.5h1M9 288.5h1M9 291.5h1M9 292.5h1M9 295.5h1M9 307.5h1M9 308.5h1M9 309.5h1M9 310.5h1M9 330.5h1M10 255.5h1M10 257.5h1M10 262.5h1M10 326.5h1M10 333.5h1M10 337.5h1M11 322.5h1"/>
<path stroke="#F18485" d="M0 105.5h1M0 108.5h1M0 149.5h1M0 150.5h1M1 32.5h1M1 42.5h1M1 43.5h1M1 71.5h1M1 78.5h1M1 83.5h1M1 93.5h1M1 102.5h1M1 140.5h1M1 141.5h1M2 80.5h1M2 157.5h1M2 158.5h1M2 171.5h1M2 172.5h1M3 9.5h1M3 15.5h1M3 26.5h1M3 43.5h1M3 44.5h1M3 80.5h1M4 15.5h1M4 18.5h1M4 19.5h1M4 20.5h1M4 28.5h1M4 42.5h1M4 61.5h1M4 62.5h1M4 63.5h1M4 73.5h1M4 90.5h1M4 103.5h1M4 145.5h1M4 166.5h1M4 178.5h1M6 230.5h1M6 232.5h1M6 267.5h1M6 285.5h1M6 291.5h1M6 347.5h1M7 312.5h1M7 321.5h1M7 340.5h1M7 350.5h1M7 360.5h1M9 245.5h1M9 246.5h1M9 278.5h1M9 318.5h1M9 319.5h1M9 332.5h1M10 227.5h1M10 233.5h1M10 243.5h1M10 244.5h1M10 250.5h1M10 264.5h1M10 287.5h1M10 325.5h1M10 329.5h1M10 336.5h1M10 348.5h1M10 358.5h1M10 359.5h1M10 360.5h1M11 6.5h1"/>
<path stroke="#F07C7D" d="M0 83.5h1M0 140.5h1M0 141.5h1M0 144.5h1M0 152.5h1M1 25.5h1M1 33.5h1M1 41.5h1M1 56.5h1M1 77.5h1M1 100.5h1M3 4.5h1M3 34.5h1M4 2.5h1M4 4.5h1M4 7.5h1M4 88.5h1M4 111.5h1M4 112.5h1M4 136.5h1M4 144.5h1M5 176.5h1M5 178.5h1M6 196.5h1M6 222.5h1M6 228.5h1M6 229.5h1M6 250.5h1M6 353.5h1M7 300.5h1M7 301.5h1M7 307.5h1M7 308.5h1M7 313.5h1M8 283.5h1M9 237.5h1M9 277.5h1M9 281.5h1M9 298.5h1M9 302.5h1M9 303.5h1M9 331.5h1M10 184.5h1M10 229.5h1M10 230.5h1M10 253.5h1M10 256.5h1M10 258.5h1M10 261.5h1M10 335.5h1M10 343.5h1M10 355.5h1"/>
<path stroke="#EF7475" d="M0 106.5h1M0 124.5h1M0 125.5h1M0 128.5h1M0 146.5h1M0 155.5h1M0 156.5h1M1 59.5h1M1 66.5h1M1 90.5h1M1 103.5h1M3 24.5h1M4 6.5h1M4 9.5h1M4 21.5h1M4 30.5h1M4 35.5h1M4 36.5h1M4 37.5h1M4 68.5h1M4 69.5h1M4 78.5h1M4 79.5h1M4 86.5h1M4 101.5h1M4 102.5h1M4 105.5h1M4 106.5h1M4 108.5h1M4 157.5h1M4 181.5h1M6 185.5h1M6 199.5h1M6 200.5h1M6 212.5h1M6 223.5h1M6 225.5h1M7 318.5h1M7 361.5h1M7 362.5h1M9 274.5h1M9 282.5h1M9 296.5h1M9 300.5h1M10 232.5h1M10 254.5h1M10 270.5h1M10 278.5h1"/>
<path stroke="#EE6C6D" d="M0 114.5h1M0 116.5h1M0 117.5h1M0 119.5h1M0 127.5h1M0 133.5h1M0 139.5h1M0 159.5h1M1 27.5h1M1 40.5h1M1 60.5h1M1 61.5h1M1 62.5h1M1 63.5h1M1 67.5h1M1 68.5h1M1 72.5h1M1 73.5h1M4 34.5h1M4 38.5h1M4 41.5h1M4 44.5h1M4 45.5h1M4 57.5h1M4 77.5h1M4 80.5h1M4 84.5h1M4 87.5h1M4 104.5h1M4 117.5h1M4 118.5h1M6 201.5h1M6 208.5h1M6 210.5h1M6 211.5h1M6 218.5h1M6 227.5h1M7 359.5h1M8 272.5h1M9 289.5h1M9 290.5h1M9 299.5h1M9 301.5h1M9 317.5h1M9 329.5h1M10 211.5h1M10 309.5h1M10 324.5h1M10 340.5h1M10 363.5h1"/>
<path stroke="#ED6465" d="M0 115.5h1M0 120.5h1M1 34.5h1M1 35.5h1M1 53.5h1M1 54.5h1M1 64.5h1M4 43.5h1M4 46.5h1M4 49.5h1M4 50.5h1M4 58.5h1M4 85.5h1M4 93.5h1M4 110.5h1M4 114.5h1M5 174.5h1M5 177.5h1M6 187.5h1M6 189.5h1M6 192.5h1M6 193.5h1M6 220.5h1M6 221.5h1M6 299.5h1M7 296.5h1M7 354.5h1M8 266.5h1M9 270.5h1M9 297.5h1M9 305.5h1M9 311.5h1M10 183.5h1M10 223.5h1M10 226.5h1M10 342.5h1M10 345.5h1M10 347.5h1"/>
<path stroke="#EC5B5D" d="M0 126.5h1M0 132.5h1M0 142.5h1M0 145.5h1M0 148.5h1M1 44.5h1M1 47.5h1M1 48.5h1M1 52.5h1M4 33.5h1M4 47.5h1M4 53.5h1M4 54.5h1M4 55.5h1M4 99.5h1M4 109.5h1M6 194.5h1M6 195.5h1M6 197.5h1M6 198.5h1M6 205.5h1M6 213.5h1M6 216.5h1M6 217.5h1M6 226.5h1M6 290.5h1M7 297.5h1M7 298.5h1M8 273.5h1M9 269.5h1M10 190.5h1M10 195.5h1M10 204.5h1M10 205.5h1M10 212.5h1M10 216.5h1M10 222.5h1M10 346.5h1"/>
<path stroke="#EB5355" d="M0 121.5h1M0 130.5h1M0 131.5h1M0 135.5h1M0 136.5h1M0 137.5h1M0 138.5h1M0 151.5h1M1 36.5h1M1 39.5h1M4 56.5h1M4 60.5h1M4 67.5h1M4 95.5h1M4 96.5h1M4 97.5h1M4 98.5h1M4 107.5h1M4 116.5h1M6 182.5h1M6 184.5h1M6 191.5h1M6 206.5h1M6 214.5h1M10 191.5h1M10 201.5h1M10 208.5h1"/>
<path stroke="#EA4B4D" d="M0 112.5h1M0 147.5h1M1 37.5h1M1 38.5h1M1 45.5h1M4 52.5h1M4 59.5h1M4 76.5h1M4 92.5h1M4 113.5h1M6 186.5h1M6 190.5h1M6 207.5h1M10 188.5h1M10 210.5h1M10 225.5h1M10 231.5h1M10 341.5h1"/>
<path stroke="#E94345" d="M0 122.5h1M0 123.5h1M0 129.5h1M1 46.5h1M1 49.5h1M4 31.5h1M4 32.5h1M4 48.5h1M4 94.5h1M4 100.5h1M4 115.5h1M6 209.5h1M6 215.5h1M10 182.5h1M10 199.5h1M10 200.5h1M10 206.5h1"/>
<path stroke="#E83B3C" d="M0 113.5h1M0 118.5h1M0 143.5h1M1 58.5h1M4 119.5h1M4 120.5h1M4 121.5h1M6 188.5h1M6 219.5h1M10 187.5h1M10 189.5h1M10 194.5h1M10 198.5h1M10 213.5h1M10 214.5h1M10 224.5h1"/>
<path stroke="#E73334" d="M0 134.5h1M1 51.5h1M4 29.5h1M4 51.5h1M6 183.5h1M6 202.5h1M6 203.5h1M6 204.5h1M10 196.5h1M10 209.5h1M10 219.5h1"/>
<path stroke="#E62A2C" d="M1 57.5h1M10 185.5h1M10 186.5h1M10 192.5h1M10 193.5h1M10 217.5h1M10 221.5h1"/>
<path stroke="#E52224" d="M1 50.5h1M10 203.5h1M10 215.5h1M10 218.5h1"/>
<path stroke="#E41A1C" d="M10 197.5h1M10 202.5h1M10 207.5h1M10 220.5h1"/>
</g></g></g>
<path d="M372 12.4H358.5V13.4H372M372 15.4H357.6V16.4H372M372 14.4H356.8V15.9H357.6M358.5 12.9H353.3V15.2H356.8M372 17.4H357.5V18.4H372M372 19.4H358.8V20.4H372M372 22.4H357.7V23.4H372M357.7 22.9H356.1V24.4H372M372 21.4H354.6V23.7H356.1M354.6 22.5H353.4V25.4H372M358.8 19.9H350.9V24H353.4M357.5 17.9H350.3V21.9H350.9M372 26.4H358.2V27.4H372M372 28.4H357.1V29.4H372M372 30.4H357.2V31.4H372M357.1 28.9H355.7V30.9H357.2M358.2 26.9H351.6V29.9H355.7M350.3 19.9H349.1V28.4H351.6M353.3 14H347V24.2H349.1M372 32.4H358V33.4H372M358 32.9H355.4V34.4H372M372 37.4H357.5V38.4H372M372 36.4H354.9V37.9H357.5M372 35.4H353.6V37.2H354.9M372 39.4H357.8V40.4H372M353.6 36.3H351.8V39.9H357.8M351.8 38.1H350.6V41.4H372M355.4 33.7H348.9V39.8H350.6M372 43.4H358.2V44.4H372M372 42.4H354.9V43.9H358.2M348.9 36.7H348.3V43.2H354.9M372 45.4H357V46.4H372M372 47.4H357.8V48.4H372M357 45.9H355.3V47.9H357.8M372 49.4H357.3V50.4H372M372 51.4H358.6V52.4H372M358.6 51.9H355V53.4H372M357.3 49.9H352.9V52.7H355M372 54.4H358.2V55.4H372M352.9 51.3H351.7V54.9H358.2M355.3 46.9H349.3V53.1H351.7M372 58.4H357.3V59.4H372M357.3 58.9H355.3V60.4H372M372 57.4H354.1V59.7H355.3M372 56.4H353.1V58.5H354.1M349.3 50H348.3V57.5H353.1M348.3 39.9H344.1V53.7H348.3M347 19.1H341V46.8H344.1M372 61.4H357.6V62.4H372M372 63.4H358.6V64.4H372M357.6 61.9H355.7V63.9H358.6M372 65.4H357.1V66.4H372M355.7 62.9H353.5V65.9H357.1M372 69.4H357.1V70.4H372M372 68.4H354.8V69.9H357.1M372 67.4H354V69.2H354.8M372 71.4H358.7V72.4H372M358.7 71.9H354.8V73.4H372M354 68.3H351.9V72.7H354.8M372 74.4H358.8V75.4H372M372 76.4H358V77.4H372M358 76.9H355.4V78.4H372M358.8 74.9H352.7V77.7H355.4M351.9 70.5H349.1V76.3H352.7M372 79.4H358.2V80.4H372M358.2 79.9H355.8V81.4H372M372 82.4H357.9V83.4H372M355.8 80.7H354.6V82.9H357.9M349.1 73.4H348V81.8H354.6M353.5 64.4H346.1V77.6H348M372 84.4H357.1V85.4H372M372 86.4H357.3V87.4H372M357.1 84.9H354.7V86.9H357.3M372 88.4H358.6V89.4H372M372 90.4H357.9V91.4H372M357.9 90.9H355.6V92.4H372M355.6 91.7H355V93.4H372M358.6 88.9H353V92.5H355M354.7 85.9H351V90.7H353M372 94.4H358.9V95.4H372M372 96.4H358.6V97.4H372M372 98.4H357.7V99.4H372M357.7 98.9H355.7V100.4H372M358.6 96.9H354.2V99.7H355.7M358.9 94.9H351.8V98.3H354.2M351 88.3H345.7V96.6H351.8M372 101.4H358.5V102.4H372M372 103.4H357.5V104.4H372M372 106.4H358.4V107.4H372M372 105.4H355.5V106.9H358.4M357.5 103.9H353.7V106.2H355.5M358.5 101.9H350.9V105.1H353.7M345.7 92.5H345.1V103.5H350.9M346.1 71H339.9V98H345.1M372 110.4H358.6V111.4H372M372 109.4H357V110.9H358.6M372 112.4H357.7V113.4H372M357.7 112.9H355.5V114.4H372M357 110.2H353.6V113.7H355.5M372 108.4H350.5V111.9H353.6M372 118.4H358.5V119.4H372M372 117.4H356.2V118.9H358.5M372 116.4H355.2V118.2H356.2M372 115.4H352.7V117.3H355.2M372 121.4H357.5V122.4H372M372 120.4H356.2V121.9H357.5M352.7 116.4H351.8V121.2H356.2M372 123.4H357.6V124.4H372M372 125.4H358.5V126.4H372M357.6 123.9H355.6V125.9H358.5M351.8 118.8H349.3V124.9H355.6M350.5 110.2H348.3V121.9H349.3M372 127.4H358.3V128.4H372M358.3 127.9H355.8V129.4H372M372 130.4H358.4V131.4H372M358.4 130.9H356.7V132.4H372M355.8 128.7H352.6V131.7H356.7M372 133.4H358.4V134.4H372M352.6 130.2H350.9V133.9H358.4M372 135.4H357V136.4H372M357 135.9H355.3V137.4H372M350.9 132.1H347.8V136.7H355.3M348.3 116H342.7V134.4H347.8M372 139.4H357.7V140.4H372M372 138.4H355.2V139.9H357.7M355.2 139.2H354.6V141.4H372M372 142.4H358.5V143.4H372M358.5 142.9H355.2V144.4H372M354.6 140.3H352.3V143.7H355.2M372 145.4H357.9V146.4H372M372 149.4H357.2V150.4H372M372 148.4H356.6V149.9H357.2M372 147.4H355.3V149.2H356.6M357.9 145.9H351.6V148.3H355.3M372 151.4H359V152.4H372M351.6 147.1H349.6V151.9H359M372 154.4H357.2V155.4H372M372 153.4H355.2V154.9H357.2M349.6 149.5H349V154.2H355.2M372 156.4H357V157.4H372M372 158.4H357.3V159.4H372M357 156.9H353.4V158.9H357.3M349 151.9H348.1V157.9H353.4M352.3 142H345V154.9H348.1M372 160.4H358.6V161.4H372M358.6 160.9H356.3V162.4H372M356.3 161.7H354.5V163.4H372M372 164.4H358.4V165.4H372M354.5 162.6H351.4V164.9H358.4M372 166.4H358V167.4H372M358 166.9H356.8V168.4H372M351.4 163.8H350.2V167.7H356.8M372 169.4H357.4V170.4H372M372 171.4H357.6V172.4H372M372 173.4H358.3V174.4H372M357.6 171.9H355.1V173.9H358.3M357.4 169.9H353.6V172.9H355.1M372 175.4H357.4V176.4H372M353.6 171.4H350.2V175.9H357.4M350.2 165.7H347.4V173.7H350.2M372 177.4H358.4V178.4H372M372 179.4H358.3V180.4H372M358.3 179.9H355.2V181.4H372M372 182.4H357.6V183.4H372M355.2 180.7H353.8V182.9H357.6M358.4 177.9H350.4V181.8H353.8M347.4 169.7H346.8V179.9H350.4M372 186.4H358.8V187.4H372M358.8 186.9H355.7V188.4H372M372 185.4H353.6V187.7H355.7M372 184.4H352.9V186.6H353.6M372 189.4H358.6V190.4H372M358.6 189.9H356.9V191.4H372M352.9 185.5H349.8V190.7H356.9M372 192.4H357.3V193.4H372M349.8 188.1H348.4V192.9H357.3M346.8 174.8H344V190.5H348.4M345 148.4H339.9V182.7H344M342.7 125.2H339.3V165.6H339.9M339.9 84.5H336.6V145.4H339.3M341 33H336V114.9H336.6M372 194.4H357.8V195.5H372M372 196.5H357.4V197.5H372M372 198.5H358.9V199.5H372M372 200.5H358.1V201.5H372M358.9 199H353.6V201H358.1M357.4 197H353V200H353.6M357.8 195H352.3V198.5H353M372 202.5H358.8V203.5H372M372 205.5H358.5V206.5H372M372 204.5H355.5V206H358.5M358.8 203H354.5V205.2H355.5M372 207.5H358.5V208.5H372M372 209.5H358.3V210.5H372M358.5 208H354.6V210H358.3M354.5 204.1H349V209H354.6M352.3 196.7H347V206.5H349M372 211.5H357.2V212.5H372M372 213.5H358.8V214.5H372M357.2 212H354.7V214H358.8M372 215.5H358.3V216.5H372M354.7 213H351.6V216H358.3M351.6 214.5H350.4V217.5H372M372 218.5H357.7V219.5H372M372 220.5H357.4V221.5H372M357.7 219H353.5V221H357.4M353.5 220H352.9V222.5H372M372 223.5H357.9V224.5H372M357.9 224H355.6V225.5H372M352.9 221.2H349.7V224.7H355.6M350.4 216H349.1V223H349.7M372 227.5H358.8V228.5H372M372 226.5H355.1V228H358.8M372 230.5H357.7V231.5H372M372 229.5H356.9V231H357.7M355.1 227.2H351.7V230.2H356.9M372 233.5H357.8V234.5H372M372 232.5H356.5V234H357.8M351.7 228.7H349.5V233.2H356.5M372 236.5H358.1V237.5H372M372 235.5H356.4V237H358.1M372 238.5H358.9V239.5H372M358.9 239H356V240.5H372M356 239.7H354.7V241.5H372M372 242.5H359V243.5H372M359 243H355.1V244.5H372M354.7 240.6H352.1V243.7H355.1M356.4 236.2H351.3V242.2H352.1M372 245.5H357.4V246.5H372M357.4 246H356V247.5H372M372 248.5H357.2V249.5H372M356 246.7H353.3V249H357.2M351.3 239.2H348.4V247.8H353.3M372 250.5H357.8V251.5H372M357.8 251H356.7V252.5H372M372 253.5H357.8V254.5H372M356.7 251.7H352.8V254H357.8M348.4 243.5H346.4V252.8H352.8M349.5 231H345.8V248.2H346.4M349.1 219.5H343.3V239.6H345.8M347 201.6H340.2V229.5H343.3M372 255.5H358.1V256.5H372M372 257.5H358.2V258.5H372M358.2 258H355.2V259.5H372M355.2 258.7H354.6V260.5H372M358.1 256H351.8V259.6H354.6M372 261.5H358.4V262.5H372M372 264.5H358.8V265.5H372M372 263.5H356.7V265H358.8M358.4 262H352.8V264.2H356.7M372 267.5H358.3V268.5H372M372 266.5H356.3V268H358.3M352.8 263.1H351.2V267.2H356.3M351.8 257.8H348.6V265.2H351.2M372 270.5H358.9V271.5H372M372 269.5H355.4V271H358.9M355.4 270.2H353.5V272.5H372M372 273.5H358.2V274.5H372M353.5 271.3H352.1V274H358.2M372 276.5H358.3V277.5H372M372 275.5H355.7V277H358.3M372 278.5H358.8V279.5H372M355.7 276.2H353.2V279H358.8M352.1 272.7H349.4V277.6H353.2M372 280.5H358.1V281.5H372M372 282.5H357.7V283.5H372M358.1 281H355V283H357.7M349.4 275.1H346.5V282H355M372 284.5H358.6V285.5H372M372 286.5H358V287.5H372M358 287H355.6V288.5H372M372 289.5H357.9V290.5H372M355.6 287.7H354.3V290H357.9M358.6 285H350.6V288.9H354.3M346.5 278.6H345.9V286.9H350.6M348.6 261.5H343.4V282.7H345.9M372 292.5H358.8V293.5H372M372 291.5H356.6V293H358.8M356.6 292.2H354.5V294.5H372M372 295.5H357.8V296.5H372M372 297.5H358.3V298.5H372M372 299.5H357V300.5H372M358.3 298H355.3V300H357M372 301.5H357.4V302.5H372M355.3 299H353.1V302H357.4M357.8 296H352.3V300.5H353.1M354.5 293.4H348.8V298.2H352.3M372 303.5H357.4V304.5H372M357.4 304H355.5V305.5H372M372 307.5H358.1V308.5H372M372 306.5H355.1V308H358.1M355.5 304.7H351.4V307.2H355.1M372 309.5H357.5V310.5H372M357.5 310H356.9V311.5H372M372 312.5H358V313.5H372M356.9 310.7H353.2V313H358M351.4 306H348.2V311.9H353.2M348.8 295.8H347V308.9H348.2M372 314.5H357.7V315.5H372M372 317.5H358.3V318.5H372M372 316.5H356.1V318H358.3M357.7 315H352.6V317.2H356.1M372 319.5H358.1V320.5H372M358.1 320H354.9V321.5H372M354.9 320.7H354.3V322.5H372M352.6 316.1H350.5V321.6H354.3M372 325.5H358V326.5H372M372 324.5H356.1V326H358M372 323.5H353.6V325.2H356.1M372 327.5H357.7V328.5H372M353.6 324.4H351.2V328H357.7M372 329.5H358.6V330.5H372M372 332.5H358.5V333.5H372M372 331.5H354.9V333H358.5M372 334.5H357.7V335.5H372M372 337.5H358.3V338.5H372M372 336.5H355.6V338H358.3M357.7 335H352.5V337.2H355.6M354.9 332.2H350.7V336.1H352.5M358.6 330H350.1V334.2H350.7M351.2 326.2H347.2V332.1H350.1M350.5 318.9H343.3V329.1H347.2M372 340.5H358.1V341.5H372M372 339.5H354.9V341H358.1M372 342.5H358.2V343.5H372M358.2 343H356.6V344.5H372M356.6 343.7H354.6V345.5H372M354.9 340.2H350.9V344.6H354.6M343.3 324H342.7V342.4H350.9M372 346.5H358.3V347.5H372M358.3 347H355V348.5H372M372 349.5H358.4V350.5H372M355 347.7H354.3V350H358.4M372 351.5H358.8V352.5H372M358.8 352H355.4V353.5H372M372 354.5H358.1V355.5H372M372 356.5H358.1V357.5H372M358.1 355H353.5V357H358.1M355.4 352.7H352.2V356H353.5M372 358.5H358.3V359.5H372M372 360.5H358.8V361.5H372M358.3 359H353.3V361H358.8M352.2 354.4H349.3V360H353.3M354.3 348.9H347.5V357.2H349.3M372 362.5H358.6V363.5H372M372 365.5H357.7V366.5H372M372 364.5H356.9V366H357.7M358.6 363H352.1V365.2H356.9M372 367.5H357.5V368.5H372M372 371.5H357.1V372.5H372M372 370.5H356.4V372H357.1M356.4 371.2H353.9V373.5H372M353.9 372.4H352.5V374.5H372M372 369.5H351.9V373.4H352.5M357.5 368H351V371.5H351.9M372 376.5H358.8V377.5H372M372 375.5H355.6V377H358.8M351 369.7H350.4V376.2H355.6M352.1 364.1H347V373H350.4M347.5 353H344V368.6H347M342.7 333.2H338.5V360.8H344M347 302.4H336.5V347H338.5M343.4 272.1H335.5V324.7H336.5M340.2 215.6H334V298.4H335.5M336 87.5H325.3V268H334" fill="none" stroke="#000" stroke-width="0.9"/>
<polygon fill="#000" points="372.5,12.4 354.7,12.4 355.9,15.7 355.3,20.6 354.4,23 357.2,26.6 353.2,29.6 354.8,33.7 354.8,37.2 350.7,39.9 354.2,43.2 353.2,47.3 357.7,50.4 351.7,55.1 352.7,59.6 356.4,61.8 357.5,65.4 350.3,68.7 355.6,71.9 355.3,74.6 355.3,77.2 355.7,79.3 353.1,81.9 350.8,86.8 357.8,89 354.5,93.5 353.7,97 356.5,101 352.9,103.4 351.3,106.9 355.2,109.2 356.5,114.2 352.7,117.1 356.6,122.1 350.6,125.9 356,128.3 355.3,131.4 355.5,133.9 350.9,137.4 352,139.8 354.3,143 351.5,147.8 354.2,150.4 350,153.1 353.3,156.6 354.1,160.5 353.5,162.7 350.6,165 357.3,169.6 355.9,174.5 354,178.3 352.5,181.9 353.7,186.5 352.9,191.2 355.1,194 353.9,198.1 350.7,200.8 351.1,204.7 353.7,209.2 352.2,213.4 351.9,218.1 350.5,223.1 352.4,227.3 354.8,232.1 354.4,236.3 352.3,240.6 355.3,243.7 352.3,245.9 351.4,248.5 350.2,251.2 353.4,254.9 357.7,259.1 355.3,262.9 357.7,267.6 356.9,270.9 353.7,274.2 356,277 352.5,279.7 350.1,283.1 350,287.5 357.2,289.9 350.2,294.3 353.3,296.9 351.9,299 357.8,302 355.6,304.2 355,306.8 356,308.8 350.5,313.6 356.9,318.5 353.9,321.5 351.5,323.5 352.8,325.6 350.6,328.4 351.5,330.6 351.1,332.8 353.4,337.3 356.9,339.5 351.8,342 356.7,344.2 354.6,347.5 356.8,351.1 356.4,355.8 355.6,359.4 356.9,362 350.2,365.6 357.6,368.5 351,371.4 353.4,376.4 357,377.5 372.5,377.5"/>
<text x="638" y="9" font-size="8.7" font-weight="bold" fill="#000">Group</text>
<defs><linearGradient id="cb" x1="0" y1="0" x2="0" y2="1"><stop offset="0" stop-color="#E41A1C"/><stop offset="0.5" stop-color="#FFFFFF"/><stop offset="1" stop-color="#2171B5"/></linearGradient></defs>
<rect x="639.5" y="12.2" width="9.2" height="134.6" fill="url(#cb)"/>
<text x="651.5" y="35" font-size="8.7" fill="#000">2</text>
<text x="651.5" y="59" font-size="8.7" fill="#000">1</text>
<text x="651.5" y="83" font-size="8.7" fill="#000">0</text>
<text x="651.5" y="107" font-size="8.7" fill="#000">−1</text>
<text x="651.5" y="131" font-size="8.7" fill="#000">−2</text>
<text x="641" y="166.8" font-size="8.7" font-weight="bold" fill="#000">Group</text>
<rect x="641" y="170" width="12.6" height="12.4" fill="#F2837C"/>
<rect x="641" y="182.4" width="12.6" height="13" fill="#6A9AC9"/>
<text x="656.6" y="179.3" font-size="8.7" fill="#000">MMD</text>
<text x="656.6" y="192.3" font-size="8.7" fill="#000">Control</text>
<defs><clipPath id="c1_57"><circle cx="57.2" cy="318" r="40.3"/></clipPath><clipPath id="c2_57"><circle cx="97.5" cy="318" r="40.3"/></clipPath><clipPath id="c3_57"><circle cx="77.5" cy="351.4" r="40.3"/></clipPath></defs>
<circle cx="57.2" cy="318" r="40.3" fill="#8EB0D4"/>
<circle cx="97.5" cy="318" r="40.3" fill="#F5A19D"/>
<circle cx="77.5" cy="351.4" r="40.3" fill="#C8A3BB"/>
<g clip-path="url(#c1_57)"><circle cx="97.5" cy="318" r="40.3" fill="#D98E93"/><circle cx="77.5" cy="351.4" r="40.3" fill="#AC8FAF"/></g>
<g clip-path="url(#c2_57)"><circle cx="77.5" cy="351.4" r="40.3" fill="#CE8D9F"/></g>
<g clip-path="url(#c1_57)"><g clip-path="url(#c2_57)"><circle cx="77.5" cy="351.4" r="40.3" fill="#C0889C"/></g></g>
<circle cx="57.2" cy="318" r="40.3" fill="none" stroke="#000" stroke-width="1.5"/>
<circle cx="97.5" cy="318" r="40.3" fill="none" stroke="#000" stroke-width="1.5"/>
<circle cx="77.5" cy="351.4" r="40.3" fill="none" stroke="#000" stroke-width="1.5"/>
<text x="43.7" y="310" font-size="8.2" fill="#1A1A1A" text-anchor="middle">1148</text>
<text x="117.5" y="310" font-size="8.2" fill="#1A1A1A" text-anchor="middle">806</text>
<text x="79" y="299.7" font-size="8.2" fill="#1A1A1A" text-anchor="middle">69</text>
<text x="78.5" y="333.4" font-size="8.2" fill="#1A1A1A" text-anchor="middle">5</text>
<text x="51.6" y="347" font-size="8.2" fill="#1A1A1A" text-anchor="middle">74</text>
<text x="106.7" y="347" font-size="8.2" fill="#1A1A1A" text-anchor="middle">37</text>
<text x="79.9" y="374.2" font-size="8.2" fill="#1A1A1A" text-anchor="middle">878</text>
<text x="10.5" y="277.6" font-size="6.8" font-weight="bold" fill="#6A9AC9" text-anchor="start">TestData_UP</text>
<text x="157.7" y="277.6" font-size="6.8" font-weight="bold" fill="#F2837C" text-anchor="end">GSE249524_UP</text>
<text x="79" y="400.1" font-size="6.8" font-weight="bold" fill="#B87FA6" text-anchor="middle">GSE189993_UP</text>
<defs><clipPath id="c1_209"><circle cx="209.8" cy="318" r="40.2"/></clipPath><clipPath id="c2_209"><circle cx="249.5" cy="318" r="40.2"/></clipPath><clipPath id="c3_209"><circle cx="229.5" cy="351.4" r="40.2"/></clipPath></defs>
<circle cx="209.8" cy="318" r="40.2" fill="#8EB0D4"/>
<circle cx="249.5" cy="318" r="40.2" fill="#F5A19D"/>
<circle cx="229.5" cy="351.4" r="40.2" fill="#C8A3BB"/>
<g clip-path="url(#c1_209)"><circle cx="249.5" cy="318" r="40.2" fill="#D98E93"/><circle cx="229.5" cy="351.4" r="40.2" fill="#AC8FAF"/></g>
<g clip-path="url(#c2_209)"><circle cx="229.5" cy="351.4" r="40.2" fill="#CE8D9F"/></g>
<g clip-path="url(#c1_209)"><g clip-path="url(#c2_209)"><circle cx="229.5" cy="351.4" r="40.2" fill="#C0889C"/></g></g>
<circle cx="209.8" cy="318" r="40.2" fill="none" stroke="#000" stroke-width="1.5"/>
<circle cx="249.5" cy="318" r="40.2" fill="none" stroke="#000" stroke-width="1.5"/>
<circle cx="229.5" cy="351.4" r="40.2" fill="none" stroke="#000" stroke-width="1.5"/>
<text x="195.4" y="310" font-size="8.2" fill="#1A1A1A" text-anchor="middle">4310</text>
<text x="269.2" y="310" font-size="8.2" fill="#1A1A1A" text-anchor="middle">523</text>
<text x="231.8" y="299.7" font-size="8.2" fill="#1A1A1A" text-anchor="middle">329</text>
<text x="231.1" y="333.4" font-size="8.2" fill="#1A1A1A" text-anchor="middle">14</text>
<text x="204.2" y="347" font-size="8.2" fill="#1A1A1A" text-anchor="middle">246</text>
<text x="258.7" y="347" font-size="8.2" fill="#1A1A1A" text-anchor="middle">36</text>
<text x="233.4" y="374.2" font-size="8.2" fill="#1A1A1A" text-anchor="middle">1159</text>
<text x="161.6" y="277.6" font-size="6.8" font-weight="bold" fill="#6A9AC9" text-anchor="start">TestData_DOWN</text>
<text x="318" y="277.6" font-size="6.8" font-weight="bold" fill="#F2837C" text-anchor="end">GSE249524_DOWN</text>
<text x="229.5" y="400.1" font-size="6.8" font-weight="bold" fill="#B87FA6" text-anchor="middle">GSE189993_DOWN</text>
<rect x="43.6" y="446.6" width="628.2" height="274.8" fill="#fff" stroke="#7A7A7A" stroke-width="1.1"/>
<line x1="56.2" y1="643" x2="56.2" y2="674.4" stroke="#333333" stroke-width="1.2"/>
<line x1="56.2" y1="700.4" x2="56.2" y2="708.4" stroke="#333333" stroke-width="1.2"/>
<rect x="50.5" y="674.4" width="11.6" height="26" fill="#6A9AC9" stroke="#333333" stroke-width="1.3"/>
<line x1="50.5" y1="697.6" x2="62" y2="697.6" stroke="#333333" stroke-width="2.4"/>
<line x1="68.7" y1="686" x2="68.7" y2="695" stroke="#333333" stroke-width="1.2"/>
<line x1="68.7" y1="704.6" x2="68.7" y2="709" stroke="#333333" stroke-width="1.2"/>
<rect x="62.9" y="695" width="11.6" height="9.6" fill="#F2837C" stroke="#333333" stroke-width="1.3"/>
<line x1="62.9" y1="703" x2="74.5" y2="703" stroke="#333333" stroke-width="2.4"/>
<circle cx="68.7" cy="674" r="2.1" fill="#F2837C" stroke="#333333" stroke-width="0.7"/>
<line x1="62.5" y1="721.4" x2="62.5" y2="724.4" stroke="#555" stroke-width="1"/>
<text transform="translate(69.5,733.9) rotate(-45)" font-size="15" fill="#1A1A1A" text-anchor="end">BTLA</text>
<line x1="89" y1="670" x2="89" y2="681.6" stroke="#333333" stroke-width="1.2"/>
<line x1="89" y1="701" x2="89" y2="707" stroke="#333333" stroke-width="1.2"/>
<rect x="83.2" y="681.6" width="11.6" height="19.4" fill="#6A9AC9" stroke="#333333" stroke-width="1.3"/>
<line x1="83.2" y1="699.6" x2="94.8" y2="699.6" stroke="#333333" stroke-width="2.4"/>
<circle cx="89" cy="618" r="2.1" fill="#6A9AC9" stroke="#333333" stroke-width="0.7"/>
<circle cx="89" cy="650.6" r="2.1" fill="#6A9AC9" stroke="#333333" stroke-width="0.7"/>
<line x1="101.4" y1="696" x2="101.4" y2="699" stroke="#333333" stroke-width="1.2"/>
<line x1="101.4" y1="702.6" x2="101.4" y2="703.6" stroke="#333333" stroke-width="1.2"/>
<rect x="95.6" y="699" width="11.6" height="3.6" fill="#F2837C" stroke="#333333" stroke-width="1.3"/>
<line x1="95.6" y1="700.5" x2="107.2" y2="700.5" stroke="#333333" stroke-width="2.4"/>
<circle cx="101.4" cy="671.4" r="2.1" fill="#F2837C" stroke="#333333" stroke-width="0.7"/>
<circle cx="101.4" cy="691.6" r="2.1" fill="#F2837C" stroke="#333333" stroke-width="0.7"/>
<circle cx="101.4" cy="708" r="2.1" fill="#F2837C" stroke="#333333" stroke-width="0.7"/>
<line x1="95.2" y1="721.4" x2="95.2" y2="724.4" stroke="#555" stroke-width="1"/>
<text transform="translate(102.2,733.9) rotate(-45)" font-size="15" fill="#1A1A1A" text-anchor="end">CCKBR</text>
<line x1="121.8" y1="560" x2="121.8" y2="575.6" stroke="#333333" stroke-width="1.2"/>
<line x1="121.8" y1="603.4" x2="121.8" y2="635.4" stroke="#333333" stroke-width="1.2"/>
<rect x="116" y="575.6" width="11.6" height="27.8" fill="#6A9AC9" stroke="#333333" stroke-width="1.3"/>
<line x1="116" y1="594" x2="127.5" y2="594" stroke="#333333" stroke-width="2.4"/>
<line x1="134.2" y1="565.4" x2="134.2" y2="625.4" stroke="#333333" stroke-width="1.2"/>
<line x1="134.2" y1="693.4" x2="134.2" y2="701.4" stroke="#333333" stroke-width="1.2"/>
<rect x="128.3" y="625.4" width="11.6" height="68" fill="#F2837C" stroke="#333333" stroke-width="1.3"/>
<line x1="128.3" y1="649" x2="140" y2="649" stroke="#333333" stroke-width="2.4"/>
<line x1="128" y1="721.4" x2="128" y2="724.4" stroke="#555" stroke-width="1"/>
<text transform="translate(134.9,733.9) rotate(-45)" font-size="15" fill="#1A1A1A" text-anchor="end">CIPC</text>
<text x="128" y="458.5" font-size="11" fill="#111" text-anchor="middle">***</text>
<line x1="154.5" y1="570" x2="154.5" y2="586" stroke="#333333" stroke-width="1.2"/>
<line x1="154.5" y1="602.4" x2="154.5" y2="615.6" stroke="#333333" stroke-width="1.2"/>
<rect x="148.7" y="586" width="11.6" height="16.4" fill="#6A9AC9" stroke="#333333" stroke-width="1.3"/>
<line x1="148.7" y1="598" x2="160.3" y2="598" stroke="#333333" stroke-width="2.4"/>
<line x1="166.9" y1="566" x2="166.9" y2="612.6" stroke="#333333" stroke-width="1.2"/>
<line x1="166.9" y1="648.6" x2="166.9" y2="694.4" stroke="#333333" stroke-width="1.2"/>
<rect x="161.1" y="612.6" width="11.6" height="36" fill="#F2837C" stroke="#333333" stroke-width="1.3"/>
<line x1="161.1" y1="619.4" x2="172.7" y2="619.4" stroke="#333333" stroke-width="2.4"/>
<circle cx="166.9" cy="548.2" r="2.1" fill="#F2837C" stroke="#333333" stroke-width="0.7"/>
<circle cx="166.9" cy="558.4" r="2.1" fill="#F2837C" stroke="#333333" stroke-width="0.7"/>
<line x1="160.7" y1="721.4" x2="160.7" y2="724.4" stroke="#555" stroke-width="1"/>
<text transform="translate(167.7,733.9) rotate(-45)" font-size="15" fill="#1A1A1A" text-anchor="end">FBXW7</text>
<text x="160.7" y="458.5" font-size="11" fill="#111" text-anchor="middle">**</text>
<line x1="187.2" y1="595.6" x2="187.2" y2="606.6" stroke="#333333" stroke-width="1.2"/>
<line x1="187.2" y1="632" x2="187.2" y2="652" stroke="#333333" stroke-width="1.2"/>
<rect x="181.4" y="606.6" width="11.6" height="25.4" fill="#6A9AC9" stroke="#333333" stroke-width="1.3"/>
<line x1="181.4" y1="623.6" x2="193.1" y2="623.6" stroke="#333333" stroke-width="2.4"/>
<line x1="199.6" y1="571" x2="199.6" y2="593.4" stroke="#333333" stroke-width="1.2"/>
<line x1="199.6" y1="611.4" x2="199.6" y2="635.4" stroke="#333333" stroke-width="1.2"/>
<rect x="193.8" y="593.4" width="11.6" height="18" fill="#F2837C" stroke="#333333" stroke-width="1.3"/>
<line x1="193.8" y1="606" x2="205.4" y2="606" stroke="#333333" stroke-width="2.4"/>
<circle cx="199.6" cy="558.4" r="2.1" fill="#F2837C" stroke="#333333" stroke-width="0.7"/>
<line x1="193.4" y1="721.4" x2="193.4" y2="724.4" stroke="#555" stroke-width="1"/>
<text transform="translate(200.4,733.9) rotate(-45)" font-size="15" fill="#1A1A1A" text-anchor="end">FIBCD1</text>
<text x="193.4" y="458.5" font-size="11" fill="#111" text-anchor="middle">*</text>
<line x1="220" y1="673.4" x2="220" y2="681.4" stroke="#333333" stroke-width="1.2"/>
<line x1="220" y1="696.6" x2="220" y2="698.6" stroke="#333333" stroke-width="1.2"/>
<rect x="214.2" y="681.4" width="11.6" height="15.2" fill="#6A9AC9" stroke="#333333" stroke-width="1.3"/>
<line x1="214.2" y1="689" x2="225.8" y2="689" stroke="#333333" stroke-width="2.4"/>
<circle cx="220" cy="659" r="2.1" fill="#6A9AC9" stroke="#333333" stroke-width="0.7"/>
<line x1="232.4" y1="610" x2="232.4" y2="653.6" stroke="#333333" stroke-width="1.2"/>
<line x1="232.4" y1="686.4" x2="232.4" y2="698" stroke="#333333" stroke-width="1.2"/>
<rect x="226.6" y="653.6" width="11.6" height="32.8" fill="#F2837C" stroke="#333333" stroke-width="1.3"/>
<line x1="226.6" y1="670.6" x2="238.2" y2="670.6" stroke="#333333" stroke-width="2.4"/>
<circle cx="232.4" cy="596" r="2.1" fill="#F2837C" stroke="#333333" stroke-width="0.7"/>
<circle cx="232.4" cy="598.6" r="2.1" fill="#F2837C" stroke="#333333" stroke-width="0.7"/>
<line x1="226.2" y1="721.4" x2="226.2" y2="724.4" stroke="#555" stroke-width="1"/>
<text transform="translate(233.2,733.9) rotate(-45)" font-size="15" fill="#1A1A1A" text-anchor="end">HNF4A</text>
<text x="226.2" y="458.5" font-size="11" fill="#111" text-anchor="middle">**</text>
<line x1="252.8" y1="524.6" x2="252.8" y2="559.4" stroke="#333333" stroke-width="1.2"/>
<line x1="252.8" y1="629.4" x2="252.8" y2="673" stroke="#333333" stroke-width="1.2"/>
<rect x="246.9" y="559.4" width="11.6" height="70" fill="#6A9AC9" stroke="#333333" stroke-width="1.3"/>
<line x1="246.9" y1="567.6" x2="258.6" y2="567.6" stroke="#333333" stroke-width="2.4"/>
<line x1="265.1" y1="459" x2="265.1" y2="487.6" stroke="#333333" stroke-width="1.2"/>
<line x1="265.1" y1="580.6" x2="265.1" y2="679.4" stroke="#333333" stroke-width="1.2"/>
<rect x="259.3" y="487.6" width="11.6" height="93" fill="#F2837C" stroke="#333333" stroke-width="1.3"/>
<line x1="259.3" y1="553.4" x2="270.9" y2="553.4" stroke="#333333" stroke-width="2.4"/>
<line x1="258.9" y1="721.4" x2="258.9" y2="724.4" stroke="#555" stroke-width="1"/>
<text transform="translate(265.9,733.9) rotate(-45)" font-size="15" fill="#1A1A1A" text-anchor="end">ISG20</text>
<text x="258.9" y="458.5" font-size="11" fill="#111" text-anchor="middle">*</text>
<line x1="285.5" y1="674" x2="285.5" y2="688.4" stroke="#333333" stroke-width="1.2"/>
<line x1="285.5" y1="703" x2="285.5" y2="706.6" stroke="#333333" stroke-width="1.2"/>
<rect x="279.7" y="688.4" width="11.6" height="14.6" fill="#6A9AC9" stroke="#333333" stroke-width="1.3"/>
<line x1="279.7" y1="702" x2="291.3" y2="702" stroke="#333333" stroke-width="2.4"/>
<circle cx="285.5" cy="650.4" r="2.1" fill="#6A9AC9" stroke="#333333" stroke-width="0.7"/>
<line x1="297.9" y1="703.4" x2="297.9" y2="703.4" stroke="#333333" stroke-width="1.2"/>
<line x1="297.9" y1="706.6" x2="297.9" y2="708.4" stroke="#333333" stroke-width="1.2"/>
<rect x="292.1" y="703.4" width="11.6" height="3.2" fill="#F2837C" stroke="#333333" stroke-width="1.3"/>
<line x1="292.1" y1="705" x2="303.7" y2="705" stroke="#333333" stroke-width="2.4"/>
<circle cx="297.9" cy="697" r="2.1" fill="#F2837C" stroke="#333333" stroke-width="0.7"/>
<circle cx="297.9" cy="699" r="2.1" fill="#F2837C" stroke="#333333" stroke-width="0.7"/>
<line x1="291.7" y1="721.4" x2="291.7" y2="724.4" stroke="#555" stroke-width="1"/>
<text transform="translate(298.7,733.9) rotate(-45)" font-size="15" fill="#1A1A1A" text-anchor="end">KCNA4</text>
<text x="291.7" y="458.5" font-size="11" fill="#111" text-anchor="middle">**</text>
<line x1="318.2" y1="617.4" x2="318.2" y2="653.4" stroke="#333333" stroke-width="1.2"/>
<line x1="318.2" y1="678" x2="318.2" y2="697.4" stroke="#333333" stroke-width="1.2"/>
<rect x="312.4" y="653.4" width="11.6" height="24.6" fill="#6A9AC9" stroke="#333333" stroke-width="1.3"/>
<line x1="312.4" y1="666" x2="324.1" y2="666" stroke="#333333" stroke-width="2.4"/>
<line x1="330.6" y1="656.4" x2="330.6" y2="676" stroke="#333333" stroke-width="1.2"/>
<line x1="330.6" y1="692.6" x2="330.6" y2="701.4" stroke="#333333" stroke-width="1.2"/>
<rect x="324.8" y="676" width="11.6" height="16.6" fill="#F2837C" stroke="#333333" stroke-width="1.3"/>
<line x1="324.8" y1="685.4" x2="336.4" y2="685.4" stroke="#333333" stroke-width="2.4"/>
<circle cx="330.6" cy="620.6" r="2.1" fill="#F2837C" stroke="#333333" stroke-width="0.7"/>
<circle cx="330.6" cy="646.6" r="2.1" fill="#F2837C" stroke="#333333" stroke-width="0.7"/>
<line x1="324.4" y1="721.4" x2="324.4" y2="724.4" stroke="#555" stroke-width="1"/>
<text transform="translate(331.4,733.9) rotate(-45)" font-size="15" fill="#1A1A1A" text-anchor="end">KDR</text>
<text x="324.4" y="458.5" font-size="11" fill="#111" text-anchor="middle">*</text>
<line x1="351" y1="625" x2="351" y2="634" stroke="#333333" stroke-width="1.2"/>
<line x1="351" y1="659.4" x2="351" y2="672.4" stroke="#333333" stroke-width="1.2"/>
<rect x="345.2" y="634" width="11.6" height="25.4" fill="#6A9AC9" stroke="#333333" stroke-width="1.3"/>
<line x1="345.2" y1="644.4" x2="356.8" y2="644.4" stroke="#333333" stroke-width="2.4"/>
<line x1="363.4" y1="550.6" x2="363.4" y2="576.6" stroke="#333333" stroke-width="1.2"/>
<line x1="363.4" y1="630" x2="363.4" y2="669.6" stroke="#333333" stroke-width="1.2"/>
<rect x="357.6" y="576.6" width="11.6" height="53.4" fill="#F2837C" stroke="#333333" stroke-width="1.3"/>
<line x1="357.6" y1="604.6" x2="369.2" y2="604.6" stroke="#333333" stroke-width="2.4"/>
<line x1="357.2" y1="721.4" x2="357.2" y2="724.4" stroke="#555" stroke-width="1"/>
<text transform="translate(364.2,733.9) rotate(-45)" font-size="15" fill="#1A1A1A" text-anchor="end">KRT18</text>
<text x="357.2" y="458.5" font-size="11" fill="#111" text-anchor="middle">**</text>
<line x1="383.8" y1="604.4" x2="383.8" y2="617.4" stroke="#333333" stroke-width="1.2"/>
<line x1="383.8" y1="627.4" x2="383.8" y2="630.4" stroke="#333333" stroke-width="1.2"/>
<rect x="377.9" y="617.4" width="11.6" height="10" fill="#6A9AC9" stroke="#333333" stroke-width="1.3"/>
<line x1="377.9" y1="626" x2="389.6" y2="626" stroke="#333333" stroke-width="2.4"/>
<line x1="396.1" y1="553" x2="396.1" y2="580" stroke="#333333" stroke-width="1.2"/>
<line x1="396.1" y1="606.4" x2="396.1" y2="628.4" stroke="#333333" stroke-width="1.2"/>
<rect x="390.3" y="580" width="11.6" height="26.4" fill="#F2837C" stroke="#333333" stroke-width="1.3"/>
<line x1="390.3" y1="598" x2="401.9" y2="598" stroke="#333333" stroke-width="2.4"/>
<circle cx="396.1" cy="508" r="2.1" fill="#F2837C" stroke="#333333" stroke-width="0.7"/>
<line x1="389.9" y1="721.4" x2="389.9" y2="724.4" stroke="#555" stroke-width="1"/>
<text transform="translate(396.9,733.9) rotate(-45)" font-size="15" fill="#1A1A1A" text-anchor="end">KRT8</text>
<text x="389.9" y="458.5" font-size="11" fill="#111" text-anchor="middle">***</text>
<line x1="416.5" y1="592.4" x2="416.5" y2="625.4" stroke="#333333" stroke-width="1.2"/>
<line x1="416.5" y1="697.6" x2="416.5" y2="700" stroke="#333333" stroke-width="1.2"/>
<rect x="410.7" y="625.4" width="11.6" height="72.2" fill="#6A9AC9" stroke="#333333" stroke-width="1.3"/>
<line x1="410.7" y1="655.6" x2="422.3" y2="655.6" stroke="#333333" stroke-width="2.4"/>
<line x1="428.9" y1="624.4" x2="428.9" y2="655.4" stroke="#333333" stroke-width="1.2"/>
<line x1="428.9" y1="701.4" x2="428.9" y2="702.4" stroke="#333333" stroke-width="1.2"/>
<rect x="423.1" y="655.4" width="11.6" height="46" fill="#F2837C" stroke="#333333" stroke-width="1.3"/>
<line x1="423.1" y1="696.6" x2="434.7" y2="696.6" stroke="#333333" stroke-width="2.4"/>
<line x1="422.7" y1="721.4" x2="422.7" y2="724.4" stroke="#555" stroke-width="1"/>
<text transform="translate(429.7,733.9) rotate(-45)" font-size="15" fill="#1A1A1A" text-anchor="end">MAOB</text>
<line x1="449.2" y1="525" x2="449.2" y2="530.4" stroke="#333333" stroke-width="1.2"/>
<line x1="449.2" y1="548" x2="449.2" y2="552.4" stroke="#333333" stroke-width="1.2"/>
<rect x="443.4" y="530.4" width="11.6" height="17.6" fill="#6A9AC9" stroke="#333333" stroke-width="1.3"/>
<line x1="443.4" y1="541.4" x2="455.1" y2="541.4" stroke="#333333" stroke-width="2.4"/>
<circle cx="449.2" cy="504.4" r="2.1" fill="#6A9AC9" stroke="#333333" stroke-width="0.7"/>
<circle cx="449.2" cy="578" r="2.1" fill="#6A9AC9" stroke="#333333" stroke-width="0.7"/>
<line x1="461.6" y1="521" x2="461.6" y2="539.4" stroke="#333333" stroke-width="1.2"/>
<line x1="461.6" y1="580" x2="461.6" y2="602.4" stroke="#333333" stroke-width="1.2"/>
<rect x="455.8" y="539.4" width="11.6" height="40.6" fill="#F2837C" stroke="#333333" stroke-width="1.3"/>
<line x1="455.8" y1="560" x2="467.4" y2="560" stroke="#333333" stroke-width="2.4"/>
<circle cx="461.6" cy="668" r="2.1" fill="#F2837C" stroke="#333333" stroke-width="0.7"/>
<line x1="455.4" y1="721.4" x2="455.4" y2="724.4" stroke="#555" stroke-width="1"/>
<text transform="translate(462.4,733.9) rotate(-45)" font-size="15" fill="#1A1A1A" text-anchor="end">MATR3</text>
<text x="455.4" y="458.5" font-size="11" fill="#111" text-anchor="middle">*</text>
<line x1="482" y1="557" x2="482" y2="593.6" stroke="#333333" stroke-width="1.2"/>
<line x1="482" y1="622" x2="482" y2="627.4" stroke="#333333" stroke-width="1.2"/>
<rect x="476.2" y="593.6" width="11.6" height="28.4" fill="#6A9AC9" stroke="#333333" stroke-width="1.3"/>
<line x1="476.2" y1="602.6" x2="487.8" y2="602.6" stroke="#333333" stroke-width="2.4"/>
<line x1="494.4" y1="582" x2="494.4" y2="609" stroke="#333333" stroke-width="1.2"/>
<line x1="494.4" y1="653.4" x2="494.4" y2="674.6" stroke="#333333" stroke-width="1.2"/>
<rect x="488.6" y="609" width="11.6" height="44.4" fill="#F2837C" stroke="#333333" stroke-width="1.3"/>
<line x1="488.6" y1="631" x2="500.2" y2="631" stroke="#333333" stroke-width="2.4"/>
<line x1="488.2" y1="721.4" x2="488.2" y2="724.4" stroke="#555" stroke-width="1"/>
<text transform="translate(495.2,733.9) rotate(-45)" font-size="15" fill="#1A1A1A" text-anchor="end">NT5C2</text>
<text x="488.2" y="458.5" font-size="11" fill="#111" text-anchor="middle">**</text>
<line x1="514.8" y1="641" x2="514.8" y2="668.6" stroke="#333333" stroke-width="1.2"/>
<line x1="514.8" y1="692.4" x2="514.8" y2="697.4" stroke="#333333" stroke-width="1.2"/>
<rect x="508.9" y="668.6" width="11.6" height="23.8" fill="#6A9AC9" stroke="#333333" stroke-width="1.3"/>
<line x1="508.9" y1="679.6" x2="520.5" y2="679.6" stroke="#333333" stroke-width="2.4"/>
<circle cx="514.8" cy="629.4" r="2.1" fill="#6A9AC9" stroke="#333333" stroke-width="0.7"/>
<line x1="527.2" y1="682" x2="527.2" y2="689.6" stroke="#333333" stroke-width="1.2"/>
<line x1="527.2" y1="696.6" x2="527.2" y2="701.4" stroke="#333333" stroke-width="1.2"/>
<rect x="521.4" y="689.6" width="11.6" height="7" fill="#F2837C" stroke="#333333" stroke-width="1.3"/>
<line x1="521.4" y1="693" x2="533" y2="693" stroke="#333333" stroke-width="2.4"/>
<circle cx="527.2" cy="645.4" r="2.1" fill="#F2837C" stroke="#333333" stroke-width="0.7"/>
<circle cx="527.2" cy="667.4" r="2.1" fill="#F2837C" stroke="#333333" stroke-width="0.7"/>
<line x1="521" y1="721.4" x2="521" y2="724.4" stroke="#555" stroke-width="1"/>
<text transform="translate(528,733.9) rotate(-45)" font-size="15" fill="#1A1A1A" text-anchor="end">POU6F2</text>
<text x="521" y="458.5" font-size="11" fill="#111" text-anchor="middle">*</text>
<line x1="547.5" y1="462.6" x2="547.5" y2="477.4" stroke="#333333" stroke-width="1.2"/>
<line x1="547.5" y1="497.4" x2="547.5" y2="510.4" stroke="#333333" stroke-width="1.2"/>
<rect x="541.7" y="477.4" width="11.6" height="20" fill="#6A9AC9" stroke="#333333" stroke-width="1.3"/>
<line x1="541.7" y1="488.6" x2="553.3" y2="488.6" stroke="#333333" stroke-width="2.4"/>
<line x1="559.9" y1="467.4" x2="559.9" y2="487" stroke="#333333" stroke-width="1.2"/>
<line x1="559.9" y1="522.6" x2="559.9" y2="551.4" stroke="#333333" stroke-width="1.2"/>
<rect x="554.1" y="487" width="11.6" height="35.6" fill="#F2837C" stroke="#333333" stroke-width="1.3"/>
<line x1="554.1" y1="502.6" x2="565.7" y2="502.6" stroke="#333333" stroke-width="2.4"/>
<line x1="553.7" y1="721.4" x2="553.7" y2="724.4" stroke="#555" stroke-width="1"/>
<text transform="translate(560.7,733.9) rotate(-45)" font-size="15" fill="#1A1A1A" text-anchor="end">RAB12</text>
<line x1="580.2" y1="619" x2="580.2" y2="647.4" stroke="#333333" stroke-width="1.2"/>
<line x1="580.2" y1="700" x2="580.2" y2="703" stroke="#333333" stroke-width="1.2"/>
<rect x="574.5" y="647.4" width="11.6" height="52.6" fill="#6A9AC9" stroke="#333333" stroke-width="1.3"/>
<line x1="574.5" y1="669" x2="586" y2="669" stroke="#333333" stroke-width="2.4"/>
<circle cx="580.2" cy="550" r="2.1" fill="#6A9AC9" stroke="#333333" stroke-width="0.7"/>
<line x1="592.7" y1="666.6" x2="592.7" y2="685.6" stroke="#333333" stroke-width="1.2"/>
<line x1="592.7" y1="700" x2="592.7" y2="705.6" stroke="#333333" stroke-width="1.2"/>
<rect x="586.9" y="685.6" width="11.6" height="14.4" fill="#F2837C" stroke="#333333" stroke-width="1.3"/>
<line x1="586.9" y1="697" x2="598.5" y2="697" stroke="#333333" stroke-width="2.4"/>
<circle cx="592.7" cy="640" r="2.1" fill="#F2837C" stroke="#333333" stroke-width="0.7"/>
<line x1="586.5" y1="721.4" x2="586.5" y2="724.4" stroke="#555" stroke-width="1"/>
<text transform="translate(593.5,733.9) rotate(-45)" font-size="15" fill="#1A1A1A" text-anchor="end">SCN4B</text>
<line x1="613" y1="464" x2="613" y2="576" stroke="#333333" stroke-width="1.2"/>
<line x1="613" y1="659.6" x2="613" y2="669.4" stroke="#333333" stroke-width="1.2"/>
<rect x="607.2" y="576" width="11.6" height="83.6" fill="#6A9AC9" stroke="#333333" stroke-width="1.3"/>
<line x1="607.2" y1="594" x2="618.8" y2="594" stroke="#333333" stroke-width="2.4"/>
<line x1="625.4" y1="586" x2="625.4" y2="626.4" stroke="#333333" stroke-width="1.2"/>
<line x1="625.4" y1="656.4" x2="625.4" y2="698.6" stroke="#333333" stroke-width="1.2"/>
<rect x="619.6" y="626.4" width="11.6" height="30" fill="#F2837C" stroke="#333333" stroke-width="1.3"/>
<line x1="619.6" y1="645" x2="631.2" y2="645" stroke="#333333" stroke-width="2.4"/>
<circle cx="625.4" cy="557.6" r="2.1" fill="#F2837C" stroke="#333333" stroke-width="0.7"/>
<line x1="619.2" y1="721.4" x2="619.2" y2="724.4" stroke="#555" stroke-width="1"/>
<text transform="translate(626.2,733.9) rotate(-45)" font-size="15" fill="#1A1A1A" text-anchor="end">SLCO5A1</text>
<line x1="645.8" y1="618.4" x2="645.8" y2="643.4" stroke="#333333" stroke-width="1.2"/>
<line x1="645.8" y1="666" x2="645.8" y2="678.4" stroke="#333333" stroke-width="1.2"/>
<rect x="640" y="643.4" width="11.6" height="22.6" fill="#6A9AC9" stroke="#333333" stroke-width="1.3"/>
<line x1="640" y1="650" x2="651.5" y2="650" stroke="#333333" stroke-width="2.4"/>
<circle cx="645.8" cy="582" r="2.1" fill="#6A9AC9" stroke="#333333" stroke-width="0.7"/>
<line x1="658.2" y1="637.4" x2="658.2" y2="661.4" stroke="#333333" stroke-width="1.2"/>
<line x1="658.2" y1="679.6" x2="658.2" y2="693.6" stroke="#333333" stroke-width="1.2"/>
<rect x="652.4" y="661.4" width="11.6" height="18.2" fill="#F2837C" stroke="#333333" stroke-width="1.3"/>
<line x1="652.4" y1="676" x2="664" y2="676" stroke="#333333" stroke-width="2.4"/>
<circle cx="658.2" cy="601" r="2.1" fill="#F2837C" stroke="#333333" stroke-width="0.7"/>
<line x1="652" y1="721.4" x2="652" y2="724.4" stroke="#555" stroke-width="1"/>
<text transform="translate(659,733.9) rotate(-45)" font-size="15" fill="#1A1A1A" text-anchor="end">TET1</text>
<text x="652" y="458.5" font-size="11" fill="#111" text-anchor="middle">*</text>
<line x1="40.4" y1="452.4" x2="43.6" y2="452.4" stroke="#555" stroke-width="1"/>
<text x="37.5" y="463" font-size="14.5" fill="#1A1A1A" text-anchor="end">12</text>
<line x1="40.4" y1="534.1" x2="43.6" y2="534.1" stroke="#555" stroke-width="1"/>
<text x="37.5" y="544.7" font-size="14.5" fill="#1A1A1A" text-anchor="end">10</text>
<line x1="40.4" y1="615.9" x2="43.6" y2="615.9" stroke="#555" stroke-width="1"/>
<text x="37.5" y="626.5" font-size="14.5" fill="#1A1A1A" text-anchor="end">8</text>
<line x1="40.4" y1="697.6" x2="43.6" y2="697.6" stroke="#555" stroke-width="1"/>
<text x="37.5" y="708.2" font-size="14.5" fill="#1A1A1A" text-anchor="end">6</text>
<text transform="translate(14.6,584.5) rotate(-90)" font-size="14.5" fill="#1A1A1A" text-anchor="middle">exp</text>
<text x="264" y="425" font-size="13.4" fill="#1A1A1A">Group</text>
<line x1="314.2" y1="414" x2="314.2" y2="426.2" stroke="#333333" stroke-width="1"/>
<rect x="308" y="416" width="12.4" height="8.3" fill="#6A9AC9" stroke="#333333" stroke-width="1"/>
<line x1="308" y1="420" x2="320.4" y2="420" stroke="#333333" stroke-width="1.3"/>
<text x="327.6" y="424.7" font-size="13.4" fill="#1A1A1A">Control</text>
<line x1="384" y1="414" x2="384" y2="426.2" stroke="#333333" stroke-width="1"/>
<rect x="377.8" y="416" width="12.4" height="8.3" fill="#F2837C" stroke="#333333" stroke-width="1"/>
<line x1="377.8" y1="420" x2="390.2" y2="420" stroke="#333333" stroke-width="1.3"/>
<text x="396.8" y="424.7" font-size="13.4" fill="#1A1A1A">MMD</text>
</svg></body></html>
